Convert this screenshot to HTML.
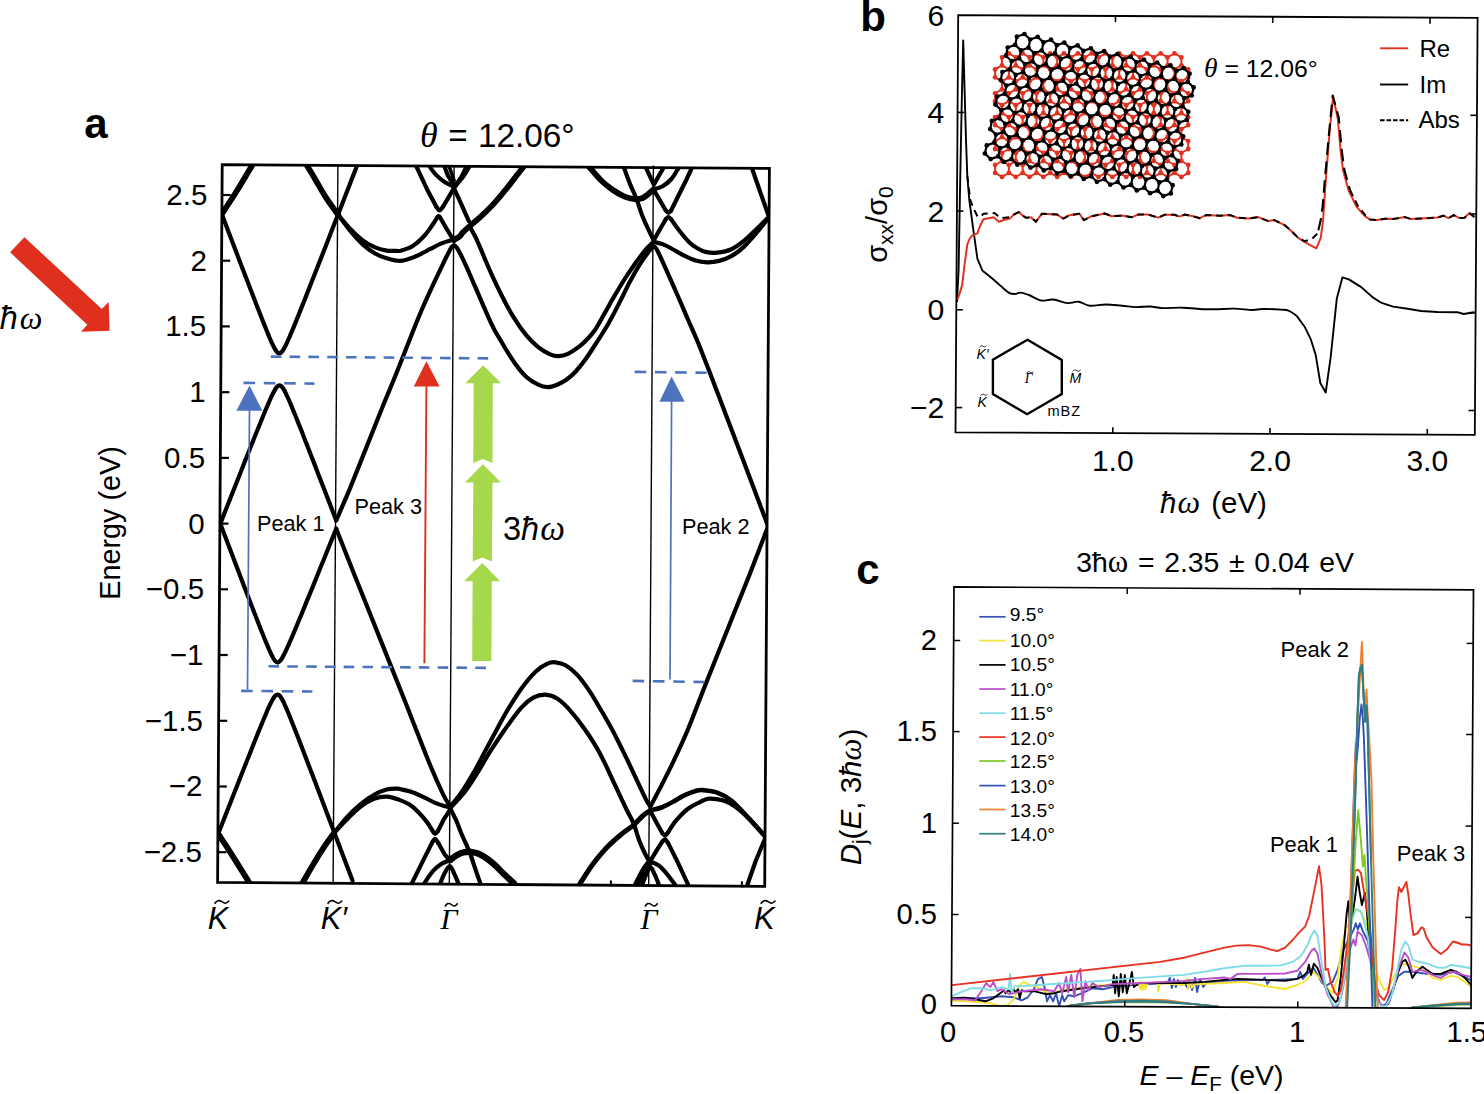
<!DOCTYPE html>
<html><head><meta charset="utf-8"><title>figure</title>
<style>html,body{margin:0;padding:0;background:#fff;overflow:hidden}svg{display:block}text{fill:#000}</style>
</head><body>
<svg width="1484" height="1094" viewBox="0 0 1484 1094" font-family="Liberation Sans, sans-serif">
<rect x="0" y="0" width="1484" height="1094" fill="#ffffff"/>
<defs><clipPath id="clipA"><polygon points="222.2,164.6 769.4,168.4 764.7,886.4 217.6,882.4"/></clipPath></defs>
<path d="M337.9 165.5 L333.1 884.5" fill="none" stroke="#000" stroke-width="1.4" />
<path d="M454.1 165.5 L449.3 884.5" fill="none" stroke="#000" stroke-width="1.4" />
<path d="M653.4 165.5 L648.7 884.5" fill="none" stroke="#000" stroke-width="1.4" />
<g clip-path="url(#clipA)"><g transform="translate(0.7 0)" stroke-linecap="round" stroke-linejoin="round">
<path d="M221.2 213.8 C223.8 209.9 231.3 198.6 236.4 190.5 C241.4 182.5 249 169.5 251.5 165.3" fill="none" stroke="#000" stroke-width="5.8" />
<path d="M221 213.8 C222.1 216.6 225.3 225.2 227.4 230.7 C229.5 236.2 231.6 241.6 233.6 246.9 C235.6 252.1 237.5 257.2 239.4 262.2 C241.3 267.2 243.2 272 245 276.7 C246.8 281.4 248.5 285.9 250.2 290.3 C251.9 294.7 253.5 298.9 255.1 303 C256.6 307 258.2 310.9 259.6 314.6 C261 318.3 262.4 321.8 263.8 325.1 C265.1 328.4 266.3 331.5 267.5 334.4 C268.7 337.2 269.8 339.9 270.8 342.1 C271.9 344.4 272.8 346.5 273.7 348.1 C274.6 349.7 275.4 350.9 276 351.7 C276.7 352.6 277.3 352.9 277.8 353.2 C278.2 353.5 278.3 353.4 278.6 353.4 C278.9 353.4 279.2 353.5 279.8 353.1 C280.3 352.6 281.2 351.9 282.1 350.6 C283 349.2 284.1 347.2 285.3 344.8 C286.5 342.3 287.8 339.3 289.2 336.1 C290.6 332.8 292.2 329.1 293.8 325.1 C295.4 321.2 297.1 316.9 298.9 312.4 C300.7 307.9 302.6 303.1 304.6 298.1 C306.6 293.1 308.7 287.8 310.8 282.3 C313 276.9 315.2 271.2 317.5 265.3 C319.8 259.4 322.2 253.3 324.7 247 C327.1 240.7 329.6 234.2 332.2 227.5 C334.8 220.9 337.5 214 340.3 207 C343 199.9 345.8 192.7 348.7 185.3 C351.6 177.9 356 166.4 357.5 162.6" fill="none" stroke="#000" stroke-width="4.2" />
<path d="M306.1 165.3 C307.6 167.8 312 175 315.2 180.4 C318.4 185.8 321.6 191.9 325.3 197.6 C329 203.3 335.4 211.9 337.5 214.8" fill="none" stroke="#000" stroke-width="5.8" />
<path d="M337.5 214.8 C339.5 217.2 345.6 224.7 349.6 228.9 C353.6 233.2 357.7 237 361.7 240.1 C365.8 243.1 369.8 245.4 373.9 247.1 C377.9 248.9 382.6 250 386 250.6 C389.4 251.2 391.7 250.8 394.1 250.8 C396.4 250.8 397.1 251.4 400 250.7 C402.9 249.9 407.8 248.7 411.7 246.3 C415.6 243.8 420 239.7 423.4 236 C426.8 232.4 430 227.5 432.2 224.3 C434.4 221.2 435.8 218.5 436.6 217.3" fill="none" stroke="#000" stroke-width="4.2" />
<path d="M436.6 217.3 C436.8 217.1 437.3 216.2 437.7 216.2 C438.2 216.2 438.9 217.1 439.2 217.3" fill="none" stroke="#000" stroke-width="4.2" />
<path d="M439.2 217.3 L446.8 230.2 L453.4 241.2" fill="none" stroke="#000" stroke-width="4.2" />
<path d="M337.5 214.8 C339.5 217.5 345.6 226.1 349.6 231 C353.6 235.9 357.7 240.4 361.7 244.1 C365.8 247.8 369.8 250.8 373.9 253.2 C377.9 255.6 381.6 257 386 258.3 C390.3 259.5 395.2 261.2 400 260.9 C404.8 260.6 409.7 258.5 414.6 256.5 C419.5 254.6 424.9 251.4 429.2 249.2 C433.6 247 437.5 244.8 440.9 243.4 C444.4 241.9 447.7 241 449.7 240.4 C451.8 239.8 452.8 239.8 453.4 239.7" fill="none" stroke="#000" stroke-width="4.2" />
<path d="M453.4 239.7 C454.2 239.2 456.9 238.1 458.5 236.8 C460.1 235.4 460.9 233.6 462.9 231.7 C464.8 229.7 467 227.9 470.2 225.1 C473.4 222.3 478 218.5 481.9 214.8 C485.8 211.2 489.7 207.4 493.6 203.1 C497.5 198.9 501.6 193.8 505.3 189.2 C508.9 184.7 512.5 180 515.5 176.1 C518.6 172.2 522.2 167.6 523.6 165.8" fill="none" stroke="#000" stroke-width="5.8" />
<path d="M415.4 165.8 L426.3 189.2 L435.8 207.1" fill="none" stroke="#000" stroke-width="4.2" />
<path d="M435.8 207.1 C436.3 207.7 437.7 210.5 438.8 210.5 C439.8 210.5 441.4 207.7 442 207.1" fill="none" stroke="#000" stroke-width="4.2" />
<path d="M442 207.1 L448.3 196.6 L453.4 187.8" fill="none" stroke="#000" stroke-width="4.2" />
<path d="M453.4 187.5 C454.6 185.7 458.6 180.4 460.7 176.8 C462.8 173.2 465.2 167.7 466.1 165.8" fill="none" stroke="#000" stroke-width="4.2" />
<path d="M453.4 187.5 C455 185.6 460.3 179.7 462.9 176.1 C465.5 172.5 468 167.6 469 165.8" fill="none" stroke="#000" stroke-width="4.2" />
<path d="M453.4 187.5 C454.8 185.6 459.3 180 461.7 176.4 C464.1 172.8 466.6 167.6 467.6 165.8" fill="none" stroke="#000" stroke-width="4.2" />
<path d="M428.5 165.8 C429.6 167.3 432.5 171.9 435.1 174.6 C437.7 177.3 440.8 179.9 443.9 181.9 C446.9 183.9 451.8 185.8 453.4 186.6" fill="none" stroke="#000" stroke-width="4.2" />
<path d="M443.6 165.8 C444.3 167.6 446 173.2 447.7 176.4 C449.3 179.6 452.4 183.7 453.4 185.2" fill="none" stroke="#000" stroke-width="4.2" />
<path d="M448.3 165.8 L453.4 180.5" fill="none" stroke="#000" stroke-width="3.6" />
<path d="M453.4 188.5 C454.2 190.3 456.7 195.5 458.5 199.5 C460.3 203.5 462.7 209 464.3 212.6 C466 216.3 467.5 219.7 468.1 221.1" fill="none" stroke="#000" stroke-width="4.2" />
<path d="M469.6 227.6 C470 228.3 470.9 229.9 472 232 C473 234 473 233 476 239.7 C479.1 246.4 485.7 262.8 490 272.4 C494.3 282 497.9 289.6 501.9 297.3 C505.8 305.1 509.8 312.4 513.8 318.7 C517.7 325.1 521.7 330.6 525.7 335.4 C529.6 340.1 533.6 344.1 537.5 347.2 C541.5 350.4 546.1 352.9 549.4 354.4 C552.8 355.9 554.8 356.3 557.7 356.2 C560.7 356.1 563.7 355.5 567.2 353.8 C570.8 352.1 575.9 348.5 579.1 346.1 C582.3 343.6 584 342 586.5 339.3 C589 336.6 591.4 334.2 594.3 330 C597.1 325.8 600.5 319.3 603.6 313.9 C606.7 308.5 609.5 303.2 612.9 297.4 C616.3 291.6 620.8 284.1 624 279 C627.2 273.9 629.4 270.8 632.1 267 C634.8 263.2 637.5 259.2 640 256 C642.5 252.8 644.8 249.9 647 247.5 C649.2 245.1 652.1 242.5 653.1 241.5" fill="none" stroke="#000" stroke-width="4.2" />
<path d="M335.5 520.4 C337.8 514.9 344.6 499.8 349.6 487.6 C354.6 475.4 360.4 460.6 365.8 447.1 C371.2 433.7 376.9 419.2 381.9 406.7 C387 394.2 390.3 386.8 396.1 372.3 C401.9 357.9 411.3 333.4 416.8 320 C422.3 306.5 425.2 300.5 429.2 291.6 C433.3 282.7 437.7 273.6 440.9 266.8 C444.2 259.9 447.2 253.7 449 250.4 C450.7 247 450.7 247.4 451.5 246.6 C452.2 245.7 452.7 245.4 453.4 245.4 C454 245.4 454.5 245.7 455.3 246.6 C456 247.4 456 247 457.8 250.4 C459.5 253.7 460.4 254.8 465.8 266.8 C471.2 278.7 484 309.5 490 322.3 C496 335.1 497.9 336.9 501.9 343.7 C505.8 350.4 509.8 357.1 513.8 362.7 C517.7 368.2 521.7 373.3 525.7 377 C529.6 380.6 534 383 537.5 384.7 C541.1 386.4 543.9 387.1 547 387.1 C550.2 387.1 553.4 385.9 556.5 384.7 C559.7 383.4 562.9 381.7 566 379.5 C569.1 377.3 572 374.8 575 371.5 C578 368.2 581.1 364.3 584.3 360 C587.5 355.7 590.7 350.5 594 345.5 C597.3 340.5 601 334.7 603.9 330 C606.8 325.3 608.4 322.4 611.2 317.2 C614 312 617.8 304.5 620.6 299 C623.4 293.5 625.5 288.8 628 284 C630.5 279.2 633.1 274.5 635.4 270.5 C637.7 266.5 640.1 262.9 642 260 C643.9 257.1 645.6 254.9 647 253 C648.4 251.1 649.5 249.7 650.5 248.6 C651.5 247.5 652.2 246.2 653.1 246.3 C654 246.4 654.6 247.1 655.8 249 C656.9 250.9 658.5 254.3 660 257.5 C661.5 260.7 662 262 664.8 268.2 C667.5 274.4 672.7 285.9 676.5 294.5 C680.3 303.1 684 312 687.5 320 C691 328 693.5 333.2 697.3 342.5 C701.1 351.8 705.5 363.3 710.4 376 C715.3 388.7 721.2 404.3 726.6 418.5 C732 432.7 738.1 448.6 742.8 461 C747.5 473.4 750.8 482.1 754.9 493 C759 503.9 765.3 520.8 767.4 526.3" fill="none" stroke="#000" stroke-width="4.2" />
<path d="M219.6 523.7 C220.7 520.9 224.1 512.4 226.2 506.9 C228.4 501.4 230.5 496.1 232.5 490.9 C234.6 485.7 236.6 480.6 238.6 475.7 C240.5 470.7 242.4 465.9 244.2 461.3 C246.1 456.7 247.9 452.2 249.6 447.8 C251.3 443.5 253 439.3 254.6 435.3 C256.2 431.3 257.8 427.4 259.3 423.7 C260.8 420.1 262.2 416.6 263.5 413.3 C264.9 410 266.2 406.9 267.4 404.1 C268.6 401.3 269.8 398.7 270.8 396.4 C271.9 394.2 272.9 392.1 273.8 390.6 C274.7 389 275.5 387.8 276.2 386.9 C276.9 386.1 277.5 385.8 277.9 385.5 C278.4 385.2 278.5 385.3 278.8 385.3 C279.1 385.3 279.2 385.2 279.6 385.5 C280.1 385.7 280.7 386 281.3 386.9 C282 387.7 282.8 388.8 283.6 390.4 C284.5 391.9 285.4 393.9 286.4 396.1 C287.5 398.2 288.6 400.8 289.7 403.5 C290.9 406.3 292.1 409.3 293.4 412.5 C294.7 415.7 296.1 419.1 297.5 422.7 C298.9 426.2 300.4 430 302 433.9 C303.5 437.9 305.1 442 306.8 446.2 C308.4 450.4 310.1 454.9 311.9 459.4 C313.7 463.9 315.5 468.6 317.3 473.4 C319.2 478.3 321.1 483.2 323.1 488.3 C325.1 493.4 327.1 498.6 329.2 504 C331.2 509.3 334.4 517.7 335.5 520.4" fill="none" stroke="#000" stroke-width="4.2" />
<path d="M623.1 167.3 C624.2 170.2 627.7 179.7 629.7 184.9 C631.8 190 633.6 193.2 635.6 198.3 C637.5 203.4 639.5 210.2 641.4 215.3 C643.4 220.3 645.3 224.5 647.3 228.7 C649.2 232.9 652.1 238.5 653.1 240.4" fill="none" stroke="#000" stroke-width="4.2" />
<path d="M588.8 167.3 C590.7 169.5 596.6 176.7 600.5 180.5 C604.4 184.3 608.3 187.3 612.2 190 C616.1 192.7 620.2 195 623.9 196.6 C627.5 198.1 631.2 198.9 634.1 199.2 C637 199.5 639.2 199.1 641.4 198.3 C643.6 197.5 645.3 195.9 647.3 194.4 C649.2 192.9 652.1 190.1 653.1 189.2" fill="none" stroke="#000" stroke-width="5.8" />
<path d="M653.1 189.2 C654.6 188.8 659 188 661.9 186.3 C664.8 184.6 667.9 182.2 670.7 179 C673.4 175.8 677 169.3 678.3 167.3" fill="none" stroke="#000" stroke-width="4.2" />
<path d="M645.1 167.3 L653.1 184.6 L663.1 167.3" fill="none" stroke="#000" stroke-width="4.2" />
<path d="M653.1 190 L660.4 202.4 L665.1 210.5" fill="none" stroke="#000" stroke-width="4.2" />
<path d="M665.1 210.5 C665.6 210.9 666.9 212.9 667.7 212.9 C668.6 212.9 669.9 210.9 670.4 210.5" fill="none" stroke="#000" stroke-width="4.2" />
<path d="M670.4 210.5 L679.4 192.2 L685.3 180.5 L691.4 167.3" fill="none" stroke="#000" stroke-width="4.2" />
<path d="M653.1 240.1 L660.4 227.3 L665.1 219.2" fill="none" stroke="#000" stroke-width="4.2" />
<path d="M665.1 219.2 C665.6 218.9 666.8 217 667.7 217 C668.7 217.1 670.2 219.2 670.7 219.7" fill="none" stroke="#000" stroke-width="4.2" />
<path d="M670.7 219.7 C672.1 221.7 676.5 228 679.4 231.7 C682.4 235.4 685.3 239.1 688.2 241.9 C691.1 244.7 694.1 246.8 697 248.5 C699.9 250.2 702.5 251.4 705.8 252.1 C709 252.8 712.4 253.1 716.5 252.6 C720.7 252.1 726.3 251.1 730.7 249.2 C735.1 247.2 738.8 244.3 742.8 241.1 C746.8 237.9 750.7 234 754.9 230 C759.1 225.9 765.9 219 768.1 216.8" fill="none" stroke="#000" stroke-width="4.2" />
<path d="M653.1 241.9 C654.6 242.3 659 243 661.9 244.1 C664.8 245.2 667.3 246.6 670.7 248.5 C674.1 250.3 678.5 253.1 682.4 255.1 C686.3 257 690.1 259 694.1 260.2 C698.1 261.4 702.3 262.2 706.4 262.3 C710.5 262.4 714.5 261.9 718.5 260.9 C722.6 259.9 726.6 258.5 730.7 256.2 C734.7 253.9 738.8 250.8 742.8 247.1 C746.8 243.4 750.7 238.9 754.9 234 C759.1 229.1 765.9 220.5 768.1 217.8" fill="none" stroke="#000" stroke-width="4.2" />
<path d="M750.9 167.3 L759 190.5 L768.1 216.4" fill="none" stroke="#000" stroke-width="4.2" />
<path d="M219.6 523.7 C220.7 526.5 223.9 535 226 540.5 C228.1 546 230.1 551.3 232.1 556.6 C234.1 561.8 236 566.9 237.9 571.8 C239.8 576.7 241.6 581.5 243.4 586.2 C245.2 590.8 246.9 595.3 248.6 599.7 C250.3 604 251.9 608.2 253.4 612.3 C255 616.3 256.5 620.1 257.9 623.8 C259.4 627.5 260.7 631 262.1 634.3 C263.4 637.5 264.6 640.6 265.8 643.4 C267 646.3 268.1 648.9 269.1 651.2 C270.1 653.4 271.1 655.4 271.9 657 C272.8 658.6 273.6 659.8 274.3 660.7 C274.9 661.5 275.5 661.8 276 662.1 C276.4 662.4 276.5 662.3 276.8 662.3 C277.1 662.3 277.2 662.4 277.7 662.1 C278.1 661.9 278.7 661.6 279.4 660.8 C280.1 660 280.9 658.8 281.8 657.3 C282.7 655.8 283.7 653.9 284.7 651.7 C285.8 649.6 286.9 647 288.1 644.3 C289.3 641.6 290.6 638.6 291.9 635.5 C293.3 632.3 294.7 628.9 296.2 625.4 C297.6 621.9 299.2 618.1 300.8 614.3 C302.4 610.4 304 606.3 305.7 602.1 C307.5 597.9 309.2 593.6 311.1 589.1 C312.9 584.6 314.8 579.9 316.7 575.2 C318.6 570.4 320.6 565.5 322.7 560.5 C324.7 555.4 326.8 550.2 328.9 545 C331.1 539.7 334.4 531.4 335.5 528.7" fill="none" stroke="#000" stroke-width="4.2" />
<path d="M335.5 528.7 C338.5 536.3 345.9 555 353.6 574.4 C361.3 593.8 373.8 624.9 381.9 645.1 C390 665.3 396.7 682 402.1 695.7 C407.6 709.4 410.1 716 414.6 727.5 C419.1 739 424.6 753.4 429.2 764.5 C433.8 775.6 439 787.2 442.4 794.3 C445.8 801.3 448.5 804.7 449.7 806.8" fill="none" stroke="#000" stroke-width="4.2" />
<path d="M217.5 833.8 C218.6 831 222 822.4 224.1 816.9 C226.3 811.4 228.4 806 230.5 800.8 C232.5 795.5 234.5 790.4 236.5 785.5 C238.4 780.5 240.3 775.7 242.2 771 C244 766.4 245.8 761.8 247.6 757.5 C249.3 753.1 251 748.9 252.6 744.8 C254.2 740.8 255.7 736.9 257.2 733.2 C258.7 729.5 260.2 726 261.5 722.7 C262.9 719.4 264.2 716.3 265.4 713.5 C266.6 710.6 267.7 708 268.8 705.7 C269.9 703.5 270.9 701.4 271.8 699.8 C272.6 698.2 273.5 697 274.2 696.1 C274.9 695.3 275.5 695 275.9 694.7 C276.4 694.4 276.5 694.5 276.8 694.5 C277.1 694.5 277.3 694.4 277.9 694.8 C278.5 695.3 279.3 695.9 280.1 697.2 C281 698.5 282 700.5 283.2 702.8 C284.3 705.2 285.6 708.1 286.9 711.3 C288.2 714.4 289.7 718.1 291.2 721.9 C292.8 725.8 294.4 729.9 296.1 734.3 C297.8 738.7 299.7 743.4 301.5 748.3 C303.4 753.2 305.4 758.3 307.4 763.7 C309.5 769 311.6 774.6 313.8 780.3 C316 786.1 318.2 792.1 320.6 798.2 C322.9 804.3 325.3 810.7 327.8 817.2 C330.3 823.7 332.8 830.4 335.4 837.3 C338 844.2 340.7 851.2 343.4 858.4 C346.1 865.7 350.4 876.9 351.8 880.6" fill="none" stroke="#000" stroke-width="4.2" />
<path d="M217.5 833.8 C220 837.6 227.2 848.5 232.3 856.6 C237.5 864.8 245.8 878.2 248.5 882.5" fill="none" stroke="#000" stroke-width="5.8" />
<path d="M302.1 882.5 C303.9 879.3 309.7 869.2 313.2 863.3 C316.7 857.4 319.9 852.2 323.3 847.1 C326.7 842.1 331.7 835.4 333.4 833" fill="none" stroke="#000" stroke-width="5.8" />
<path d="M333.4 833 C335.4 830.5 341.2 822.6 345.6 817.8 C349.9 813 355 808.2 359.7 804.3 C364.4 800.4 369.5 797 373.9 794.6 C378.2 792.1 382.3 790.5 386 789.5 C389.7 788.5 393.8 788.6 396.1 788.5 C398.4 788.5 397.4 788.6 400 789.2 C402.6 789.8 407.8 790.8 411.7 792.2 C415.6 793.5 419.5 795.4 423.4 797.3 C427.3 799.1 431.7 801.7 435.1 803.1 C438.5 804.6 441.4 805.3 443.9 806 C446.3 806.8 448.7 807.3 449.7 807.5" fill="none" stroke="#000" stroke-width="4.2" />
<path d="M333.4 833 C335.4 830.8 341.2 824.2 345.6 819.9 C349.9 815.5 355 810.2 359.7 806.7 C364.4 803.2 369.5 800.3 373.9 798.6 C378.2 796.9 381.9 796.4 386 796.6 C390 796.8 394.3 798.3 398.1 799.6 C401.9 801 405.5 802.5 408.8 804.6 C412 806.6 414.6 809 417.5 811.9 C420.5 814.8 423.9 819 426.3 822.1 C428.7 825.3 431 829.4 431.9 830.9" fill="none" stroke="#000" stroke-width="4.2" />
<path d="M431.9 830.9 C432.3 831.4 433.5 833.8 434.4 833.8 C435.3 833.8 436.8 831.4 437.3 830.9" fill="none" stroke="#000" stroke-width="4.2" />
<path d="M437.3 830.9 L442.4 820.7 L449.7 809" fill="none" stroke="#000" stroke-width="4.2" />
<path d="M411 883.6 L421.9 861.6 L431.4 842.6" fill="none" stroke="#000" stroke-width="4.2" />
<path d="M431.4 842.6 C431.9 842 433.3 838.8 434.4 838.9 C435.4 839.1 437.2 842.6 437.7 843.3" fill="none" stroke="#000" stroke-width="4.2" />
<path d="M437.7 843.3 L443.9 854.3 L449 860.2" fill="none" stroke="#000" stroke-width="4.2" />
<path d="M449.7 809 C450.7 810.9 453.6 816.3 455.6 820.7 C457.5 825.1 459.7 831.3 461.4 835.3 C463.1 839.3 464.3 841.4 465.8 844.8 C467.3 848.2 468.7 851.7 470.2 855.8 C471.7 859.8 473 864.3 474.6 868.9 C476.2 873.6 478.8 881.1 479.7 883.6" fill="none" stroke="#000" stroke-width="4.2" />
<path d="M423.4 883.6 C424.9 881.5 429.2 874.4 432.2 871.1 C435.1 867.8 438 865.7 440.9 863.8 C443.9 861.9 448.3 860.5 449.7 859.9" fill="none" stroke="#000" stroke-width="4.2" />
<path d="M449.7 859.9 C450.7 859.1 453.4 856.7 455.6 855.5 C457.8 854.2 460 852.8 462.9 852.3 C465.8 851.7 470 851.7 473.1 852.3 C476.3 852.8 478.5 853.7 481.9 855.8 C485.3 857.8 490.2 861.6 493.6 864.5 C497 867.5 499.1 870.1 502.4 873.3 C505.7 876.5 511.5 881.8 513.3 883.6" fill="none" stroke="#000" stroke-width="6.4" />
<path d="M439.5 883.6 C440.2 881.8 442.3 876.2 443.9 873.3 C445.5 870.4 447.4 866 449 866 C450.6 866 451.9 870.4 453.4 873.3 C454.8 876.2 457 881.8 457.8 883.6" fill="none" stroke="#000" stroke-width="4.2" />
<path d="M449.7 806.3 C451.7 803.9 457.5 797.1 461.4 791.4 C465.3 785.8 469.2 779.2 473.1 772.4 C477 765.6 481 757.5 484.8 750.5 C488.6 743.4 492.2 736.6 495.8 730 C499.4 723.4 502.2 717.8 506.3 711 C510.4 704.2 515.7 695.5 520.4 689 C525.1 682.5 530.2 676.2 534.6 672 C539 667.8 543.3 665.3 546.7 663.7 C550.1 662.1 551.8 662 554.8 662.3 C557.8 662.6 561.2 663.1 564.9 665.3 C568.6 667.5 573 671.1 577 675.4 C581.1 679.8 585.1 685.6 589.2 691.6 C593.2 697.7 597.5 705.4 601.3 711.8 C605 718.2 607.6 722.3 611.7 730 C615.7 737.7 621.3 749 625.6 757.8 C629.8 766.6 633.9 775.5 637.3 782.6 C640.7 789.8 644 797 646 800.9 C648.1 804.9 649.1 805.4 649.7 806.3" fill="none" stroke="#000" stroke-width="4.2" />
<path d="M449.7 807.8 C452.2 805.1 460 797.1 464.3 791.4 C468.7 785.8 471.9 780.5 476 773.9 C480.2 767.3 484.6 759.2 489.2 751.9 C493.8 744.6 498.6 737.4 503.8 730 C509 722.6 515.6 713.2 520.4 707.8 C525.2 702.4 528.5 699.9 532.6 697.7 C536.6 695.5 540.6 694.5 544.7 694.6 C548.7 694.8 552.8 696.2 556.8 698.7 C560.9 701.2 564.3 704.6 568.9 709.8 C573.6 715 579.6 722.7 584.6 730 C589.7 737.3 594.4 744.4 599.2 753.4 C604.1 762.4 609.5 774.8 613.9 784.1 C618.3 793.4 622.4 802.4 625.6 809 C628.7 815.6 630.7 818.2 632.9 823.6 C635.1 829 636.8 836 638.7 841.1 C640.7 846.3 642.9 850.9 644.6 854.3 C646.3 857.7 648.2 860.4 649 861.6" fill="none" stroke="#000" stroke-width="4.2" />
<path d="M767.4 526.3 C764.3 534.3 754.7 559.6 748.9 574.4 C743.1 589.1 738.1 601.3 732.7 614.8 C727.3 628.3 721.6 642.6 716.5 655.2 C711.5 667.9 707.3 678.1 702.4 690.6 C697.5 703.1 692 718.1 687 730 C682 741.9 676.8 752.9 672.4 762.2 C668 771.4 664.4 778.2 660.7 785.6 C656.9 792.9 651.5 802.9 649.7 806.3" fill="none" stroke="#000" stroke-width="4.2" />
<path d="M578.8 884.3 C581 881 587.3 870.8 591.9 864.5 C596.6 858.3 601.7 852.1 606.6 847 C611.4 841.9 616.8 837.5 621.2 833.8 C625.6 830.2 629.2 828.2 632.9 825.1 C636.5 821.9 640.3 817.3 643.1 814.8 C645.9 812.4 648.6 811.2 649.7 810.4" fill="none" stroke="#000" stroke-width="5" />
<path d="M649.7 810.4 C651.5 809.9 656.9 809 660.7 807.5 C664.4 806 668.5 803.7 672.4 801.7 C676.3 799.6 680.2 796.9 684.1 795.1 C688 793.2 692.7 791.5 695.8 790.7 C698.8 789.9 698.9 789.8 702.4 790.1 C705.8 790.4 711.8 790.8 716.5 792.6 C721.2 794.3 725.6 796.6 730.7 800.6 C735.7 804.7 741.1 810.8 746.8 816.8 C752.6 822.9 762 833.7 765 837" fill="none" stroke="#000" stroke-width="4.6" />
<path d="M649.7 811.2 L656.3 823.6 L661.4 832.8" fill="none" stroke="#000" stroke-width="4.2" />
<path d="M661.4 832.8 C661.9 833.3 663.4 835.7 664.3 835.6 C665.3 835.5 666.8 832.9 667.3 832.4" fill="none" stroke="#000" stroke-width="4.2" />
<path d="M667.3 832.4 C668.6 830.4 672 824.6 675.3 820.7 C678.6 816.8 682.9 812.1 687 809 C691.1 805.8 696.4 803.4 700 801.7 C703.6 799.9 704.7 798.8 708.4 798.6 C712.2 798.5 718.2 799.3 722.6 800.6 C727 802 730.3 803.6 734.7 806.7 C739.1 809.8 743.8 814.2 748.9 819.2 C753.9 824.3 762.3 834.1 765 837" fill="none" stroke="#000" stroke-width="4.2" />
<path d="M649.7 860.9 L656.3 849.9 L661.4 841.9" fill="none" stroke="#000" stroke-width="4.2" />
<path d="M661.4 841.9 C661.9 841.5 663.4 839.2 664.3 839.4 C665.3 839.6 666.8 842.3 667.3 842.9" fill="none" stroke="#000" stroke-width="4.2" />
<path d="M667.3 842.9 L675.3 858.7 L687.3 884.3" fill="none" stroke="#000" stroke-width="4.2" />
<path d="M649.7 861.6 C651 862.2 655.2 863.4 657.7 865.3 C660.3 867.1 662.3 869.4 665.1 872.6 C667.8 875.8 672.6 882.3 674.1 884.3" fill="none" stroke="#000" stroke-width="4.2" />
<path d="M635.8 884.3 C637 882 640.9 874 643.1 870.4 C645.3 866.7 648 863.7 649 862.3" fill="none" stroke="#000" stroke-width="6.6" />
<path d="M641.7 884.3 C642.9 881.5 646.9 869.1 649 867.5 C651 865.9 652.6 872 654.1 874.8 C655.6 877.6 657.4 882.7 658 884.3" fill="none" stroke="#000" stroke-width="4.2" />
<path d="M765 837 L754.9 861.3 L746.8 884.5" fill="none" stroke="#000" stroke-width="4.2" />
</g></g>
<polygon points="222.2,164.6 769.4,168.4 764.7,886.4 217.6,882.4" fill="none" stroke="#000" stroke-width="2.8"/>
<path d="M222.1 195 L230.7 195" fill="none" stroke="#000" stroke-width="2.2" />
<text x="207.3" y="204.9" font-family="Liberation Sans, sans-serif" font-size="29.5" text-anchor="end" >2.5</text>
<path d="M221.6 260.7 L230.2 260.7" fill="none" stroke="#000" stroke-width="2.2" />
<text x="206.8" y="270.6" font-family="Liberation Sans, sans-serif" font-size="29.5" text-anchor="end" >2</text>
<path d="M221.2 326.4 L229.8 326.4" fill="none" stroke="#000" stroke-width="2.2" />
<text x="206.2" y="336.3" font-family="Liberation Sans, sans-serif" font-size="29.5" text-anchor="end" >1.5</text>
<path d="M220.8 392.2 L229.4 392.2" fill="none" stroke="#000" stroke-width="2.2" />
<text x="205.7" y="402.1" font-family="Liberation Sans, sans-serif" font-size="29.5" text-anchor="end" >1</text>
<path d="M220.3 457.9 L228.9 457.9" fill="none" stroke="#000" stroke-width="2.2" />
<text x="205.1" y="467.8" font-family="Liberation Sans, sans-serif" font-size="29.5" text-anchor="end" >0.5</text>
<path d="M219.9 523.6 L228.5 523.6" fill="none" stroke="#000" stroke-width="2.2" />
<text x="204.6" y="533.5" font-family="Liberation Sans, sans-serif" font-size="29.5" text-anchor="end" >0</text>
<path d="M219.5 589.3 L228.1 589.3" fill="none" stroke="#000" stroke-width="2.2" />
<text x="204.1" y="599.2" font-family="Liberation Sans, sans-serif" font-size="29.5" text-anchor="end" >−0.5</text>
<path d="M219.1 655 L227.7 655" fill="none" stroke="#000" stroke-width="2.2" />
<text x="203.5" y="664.9" font-family="Liberation Sans, sans-serif" font-size="29.5" text-anchor="end" >−1</text>
<path d="M218.6 720.8 L227.2 720.8" fill="none" stroke="#000" stroke-width="2.2" />
<text x="203" y="730.7" font-family="Liberation Sans, sans-serif" font-size="29.5" text-anchor="end" >−1.5</text>
<path d="M218.2 786.5 L226.8 786.5" fill="none" stroke="#000" stroke-width="2.2" />
<text x="202.4" y="796.4" font-family="Liberation Sans, sans-serif" font-size="29.5" text-anchor="end" >−2</text>
<path d="M217.8 852.2 L226.4 852.2" fill="none" stroke="#000" stroke-width="2.2" />
<text x="201.9" y="862.1" font-family="Liberation Sans, sans-serif" font-size="29.5" text-anchor="end" >−2.5</text>
<path d="M480 885.4 L480.1 879.4" fill="none" stroke="#000" stroke-width="2" />
<path d="M610.9 886.4 L610.9 880.4" fill="none" stroke="#000" stroke-width="2" />
<path d="M741.9 887.3 L741.9 881.3" fill="none" stroke="#000" stroke-width="2" />
<text transform="translate(119.8 523) rotate(-90)" text-anchor="middle" font-family="Liberation Sans, sans-serif" font-size="28.8">Energy (eV)</text>
<path d="M270.8 356.6 L489.1 358.4" fill="none" stroke="#4E73BE" stroke-width="2.6" stroke-dasharray="10.6 8.2"/>
<path d="M243.5 382.9 L314.4 383.6" fill="none" stroke="#4E73BE" stroke-width="2.6" stroke-dasharray="11.6 8.7"/>
<path d="M268.5 666.3 L487.5 667.9" fill="none" stroke="#4E73BE" stroke-width="2.6" stroke-dasharray="10.6 8.2"/>
<path d="M241.1 690.9 L312.4 691.5" fill="none" stroke="#4E73BE" stroke-width="2.6" stroke-dasharray="11.6 8.7"/>
<path d="M634.6 371.9 L706.6 372.8" fill="none" stroke="#4E73BE" stroke-width="2.6" stroke-dasharray="11.6 8.7"/>
<path d="M632.6 680.9 L704.6 682" fill="none" stroke="#4E73BE" stroke-width="2.6" stroke-dasharray="11.6 8.7"/>
<path d="M247.5 689.6 L249.5 409" fill="none" stroke="#4E73BE" stroke-width="1.7" />
<polygon points="249.5,385.5 236.4,410.8 262.4,410.8" fill="#4E73BE"/>
<path d="M424.4 663.3 L426.4 386" fill="none" stroke="#DF301E" stroke-width="1.9" />
<polygon points="426.4,361.2 413.8,386.6 439.6,386.6" fill="#DF301E"/>
<path d="M670 679.5 L671.6 401" fill="none" stroke="#4E73BE" stroke-width="1.7" />
<polygon points="671.6,376.4 659.4,401.8 684.7,401.8" fill="#4E73BE"/>
<polygon points="483.2,365.3 501.2,383.3 492.8,383.3 492.5,463 482.9,459 473.3,463 473.6,383.3 465.2,383.3" fill="#A5D94B"/>
<polygon points="482.9,464.3 500.9,482.6 492.5,482.6 491.9,561.6 482.3,557.6 472.7,561.6 473.3,482.6 464.9,482.6" fill="#A5D94B"/>
<polygon points="482.2,563 500.2,581.2 491.8,581.2 491.4,661 472.2,661 472.6,581.2 464.2,581.2" fill="#A5D94B"/>
<polygon points="24.4,237.2 10.1,252.3 87.3,324.8 81,331.7 109.6,330.8 108.7,302 101.8,308.9" fill="#DF301E"/>
<text x="84.3" y="137.8" font-family="Liberation Sans, sans-serif" font-size="42" font-weight="bold" >a</text>
<text x="420" y="147.4" font-size="33.3" word-spacing="1.2" font-family="Liberation Sans, sans-serif"><tspan font-family="Liberation Serif, serif" font-style="italic" font-size="36">θ</tspan> = 12.06°</text>
<text x="-0.3" y="328.6" font-size="32.5" font-family="Liberation Sans, sans-serif" font-style="italic">ħ<tspan font-family="Liberation Serif, serif" font-size="32" dx="2">ω</tspan></text>
<text x="503" y="540" font-size="32.5" font-family="Liberation Sans, sans-serif">3<tspan font-style="italic">ħ</tspan><tspan font-family="Liberation Serif, serif" font-style="italic" font-size="35" dx="1">ω</tspan></text>
<text x="257" y="530.5" font-family="Liberation Sans, sans-serif" font-size="21.7" >Peak 1</text>
<text x="354.5" y="513.5" font-family="Liberation Sans, sans-serif" font-size="21.7" >Peak 3</text>
<text x="682" y="534" font-family="Liberation Sans, sans-serif" font-size="21.7" >Peak 2</text>
<text x="207.8" y="928.9" font-family="Liberation Sans, sans-serif" font-size="30.8" font-style="italic" >K</text><path d="M215 903.3 c1.7 -2.6 4.1 -3.6 6.9 -1.6 s4.1 2.4 6.9 -0.7" fill="none" stroke="#000" stroke-width="1.6" stroke-linecap="round"/>
<text x="320.8" y="928.9" font-family="Liberation Sans, sans-serif" font-size="30.8" font-style="italic" >K′</text><path d="M328 903.3 c1.7 -2.6 4.1 -3.6 6.9 -1.6 s4.1 2.4 6.9 -0.7" fill="none" stroke="#000" stroke-width="1.6" stroke-linecap="round"/>
<text x="440.5" y="928.9" font-family="Liberation Serif, serif" font-size="29.9" font-style="italic" >Γ</text><path d="M445.3 906.1 c1.4 -2.6 3.6 -3.6 6 -1.6 s3.6 2.4 6 -0.7" fill="none" stroke="#000" stroke-width="1.6" stroke-linecap="round"/>
<text x="640.5" y="928.9" font-family="Liberation Serif, serif" font-size="29.9" font-style="italic" >Γ</text><path d="M645.3 906.1 c1.4 -2.6 3.6 -3.6 6 -1.6 s3.6 2.4 6 -0.7" fill="none" stroke="#000" stroke-width="1.6" stroke-linecap="round"/>
<text x="754" y="928.9" font-family="Liberation Sans, sans-serif" font-size="30.8" font-style="italic" >K</text><path d="M761.2 903.3 c1.7 -2.6 4.1 -3.6 6.9 -1.6 s4.1 2.4 6.9 -0.7" fill="none" stroke="#000" stroke-width="1.6" stroke-linecap="round"/>
<path d="M1084.8 57.4L1084.8 65.4M1084.8 176.9L1091.7 172.9M1043.4 81.3L1050.2 77.3M995.1 172.9L1002 176.9M1057.2 57.4L1057.2 65.4M1029.5 153L1029.5 161M1153.8 129.1L1153.8 137.1M1098.5 153L1098.5 161M1064 77.3L1071 81.3M1064 93.3L1071 89.3M1140 176.9L1146.9 172.9M1181.4 153L1188.2 149M1077.9 69.4L1077.9 77.3M1167.5 153L1167.6 161M1029.5 57.4L1036.5 53.4M1146.9 69.4L1146.9 77.3M1057.2 129.1L1057.2 137.1M1036.5 125.1L1043.4 129.1M1022.7 53.4L1029.5 57.4M1098.5 129.1L1105.5 125.1M1174.5 117.2L1181.4 113.2M995.1 69.4L1002 65.4M1043.4 105.2L1043.4 113.2M1043.4 57.4L1043.4 65.4M1160.7 125.1L1167.5 129.1M1050.2 141.1L1050.2 149M1119.2 93.3L1119.2 101.2M1050.2 93.3L1057.2 89.3M1112.4 57.4L1112.4 65.4M1112.4 153L1119.2 149M1002 81.3L1002 89.3M1140 65.4L1146.9 69.4M1098.5 81.3L1098.5 89.3M1119.2 101.2L1126.2 105.2M1153.8 161L1160.7 165M1188.2 165L1188.2 172.9M1091.7 172.9L1098.5 176.9M1050.2 77.3L1057.2 81.3M1050.2 93.3L1050.2 101.2M995.1 125.1L1002 129.1M1071 137.1L1077.9 141.1M1022.7 172.9L1029.5 176.9M1064 93.3L1064 101.2M1036.5 141.1L1036.5 149M1015.8 161L1022.7 165M1002 153L1008.9 149M1160.7 93.3L1160.7 101.2M1146.9 117.2L1153.8 113.2M1050.2 149L1057.2 153M1008.9 165L1008.9 172.9M1181.4 129.1L1188.2 125.1M1167.6 161L1174.5 165M1174.5 53.4L1181.4 57.4M1126.2 105.2L1133 101.2M1126.2 176.9L1133 172.9M1146.9 53.4L1153.8 57.4M1133 117.2L1133 125.1M1105.5 149L1112.4 153M1043.4 137.1L1050.2 141.1M1140 57.4L1146.9 53.4M1146.9 172.9L1153.8 176.9M1084.8 129.1L1084.8 137.1M1181.4 113.2L1188.2 117.2M1133 93.3L1140 89.3M1126.2 161L1133 165M1160.7 165L1167.6 161M1022.7 69.4L1029.5 65.4M1098.5 161L1105.5 165M1146.9 69.4L1153.8 65.4M1091.7 141.1L1098.5 137.1M1002 113.2L1008.9 117.2M1008.9 149L1015.8 153M1077.9 117.2L1084.8 113.2M1153.8 57.4L1153.8 65.4M1050.2 165L1050.2 172.9M1015.8 129.1L1022.7 125.1M1146.9 101.2L1153.8 105.2M1057.2 89.3L1064 93.3M1057.2 161L1064 165M1167.6 176.9L1174.5 172.9M1091.7 141.1L1091.7 149M1146.9 141.1L1146.9 149M1091.7 101.2L1098.5 105.2M1160.7 117.2L1160.7 125.1M1126.2 81.3L1126.2 89.3M1029.5 81.3L1029.5 89.3M1077.9 149L1084.8 153M1105.5 117.2L1112.4 113.2M1119.2 165L1119.2 172.9M1064 53.4L1071 57.4M1091.7 93.3L1091.7 101.2M1126.2 65.4L1133 69.4M1167.5 57.4L1174.5 53.4M1181.4 81.3L1188.2 77.3M1057.2 105.2L1064 101.2M1098.5 153L1105.5 149M1064 117.2L1064 125.1M1071 81.3L1077.9 77.3M1133 77.3L1140 81.3M1112.4 65.4L1119.2 69.4M1174.5 69.4L1174.5 77.3M1119.2 125.1L1126.2 129.1M1153.8 89.3L1160.7 93.3M1057.2 129.1L1064 125.1M1064 117.2L1071 113.2M1077.9 77.3L1084.8 81.3M1112.4 129.1L1112.4 137.1M1002 105.2L1002 113.2M1043.4 176.9L1050.2 172.9M1022.7 141.1L1022.7 149M1084.8 153L1084.8 161M1105.5 53.4L1112.4 57.4M1091.7 117.2L1091.7 125.1M1029.5 113.2L1036.5 117.2M1064 172.9L1071 176.9M1167.5 129.1L1174.5 125.1M1036.5 165L1036.5 172.9M1077.9 165L1077.9 172.9M1050.2 172.9L1057.2 176.9M1119.2 69.4L1126.2 65.4M1084.8 89.3L1091.7 93.3M1022.7 101.2L1029.5 105.2M1057.2 153L1057.2 161M1174.5 172.9L1181.4 176.9M1126.2 89.3L1133 93.3M1133 141.1L1133 149M1112.4 153L1112.4 161M995.1 141.1L1002 137.1M1071 105.2L1077.9 101.2M1036.5 69.4L1036.5 77.3M1181.4 57.4L1181.4 65.4M1119.2 141.1L1126.2 137.1M1043.4 65.4L1050.2 69.4M1105.5 69.4L1105.5 77.3M1126.2 153L1126.2 161M1160.7 77.3L1167.5 81.3M1160.7 149L1167.5 153M1084.8 57.4L1091.7 53.4M1015.8 129.1L1015.8 137.1M1105.5 172.9L1112.4 176.9M1133 149L1140 153M1188.2 93.3L1188.2 101.2M1057.2 57.4L1064 53.4M1029.5 153L1036.5 149M995.1 165L1002 161M1050.2 53.4L1057.2 57.4M1008.9 172.9L1015.8 176.9M1022.7 117.2L1022.7 125.1M1015.8 153L1022.7 149M1064 149L1071 153M1146.9 93.3L1146.9 101.2M1008.9 117.2L1015.8 113.2M1126.2 105.2L1126.2 113.2M1008.9 93.3L1015.8 89.3M1071 161L1077.9 165M1174.5 141.1L1174.5 149M1105.5 125.1L1112.4 129.1M1167.5 105.2L1167.6 113.2M1174.5 101.2L1181.4 105.2M1140 153L1146.9 149M1146.9 165L1146.9 172.9M1181.4 153L1181.4 161M1043.4 105.2L1050.2 101.2M1050.2 101.2L1057.2 105.2M1008.9 93.3L1008.9 101.2M1146.9 141.1L1153.8 137.1M1160.7 117.2L1167.6 113.2M1153.8 129.1L1160.7 125.1M1029.5 105.2L1029.5 113.2M1064 141.1L1064 149M1029.5 81.3L1036.5 77.3M1002 81.3L1008.9 77.3M1140 129.1L1146.9 125.1M1098.5 81.3L1105.5 77.3M1119.2 165L1126.2 161M1022.7 165L1029.5 161M1077.9 53.4L1084.8 57.4M1071 176.9L1077.9 172.9M1071 65.4L1077.9 69.4M1181.4 137.1L1188.2 141.1M1002 137.1L1008.9 141.1M1002 57.4L1002 65.4M1036.5 77.3L1043.4 81.3M1153.8 57.4L1160.7 53.4M1008.9 77.3L1015.8 81.3M1174.5 69.4L1181.4 65.4M1043.4 129.1L1043.4 137.1M1160.7 141.1L1160.7 149M1160.7 93.3L1167.6 89.3M1140 81.3L1146.9 77.3M995.1 141.1L995.1 149M1091.7 69.4L1098.5 65.4M1105.5 141.1L1105.5 149M1133 117.2L1140 113.2M1098.5 105.2L1098.5 113.2M1084.8 129.1L1091.7 125.1M1119.2 117.2L1119.2 125.1M1167.6 89.3L1174.5 93.3M1153.8 81.3L1153.8 89.3M1112.4 137.1L1119.2 141.1M1071 129.1L1071 137.1M1167.6 113.2L1174.5 117.2M1105.5 141.1L1112.4 137.1M995.1 77.3L1002 81.3M995.1 93.3L1002 89.3M1057.2 81.3L1057.2 89.3M1140 113.2L1146.9 117.2M1112.4 161L1119.2 165M1174.5 165L1174.5 172.9M1181.4 129.1L1181.4 137.1M1015.8 113.2L1022.7 117.2M1077.9 172.9L1084.8 176.9M1140 57.4L1140 65.4M1133 69.4L1133 77.3M1105.5 101.2L1112.4 105.2M1043.4 89.3L1050.2 93.3M1022.7 125.1L1029.5 129.1M1146.9 125.1L1153.8 129.1M1084.8 81.3L1084.8 89.3M1133 53.4L1140 57.4M1181.4 65.4L1188.2 69.4M1015.8 65.4L1022.7 69.4M1029.5 137.1L1036.5 141.1M1126.2 113.2L1133 117.2M1188.2 117.2L1188.2 125.1M1098.5 137.1L1105.5 141.1M1036.5 149L1043.4 153M1022.7 93.3L1029.5 89.3M1140 129.1L1140 137.1M1036.5 93.3L1043.4 89.3M1008.9 101.2L1015.8 105.2M1126.2 57.4L1133 53.4M1091.7 125.1L1098.5 129.1M1050.2 117.2L1050.2 125.1M1015.8 81.3L1022.7 77.3M995.1 165L995.1 172.9M1057.2 113.2L1064 117.2M1174.5 125.1L1181.4 129.1M1036.5 93.3L1036.5 101.2M1077.9 141.1L1084.8 137.1M1043.4 161L1050.2 165M1105.5 165L1105.5 172.9M1112.4 81.3L1119.2 77.3M1077.9 101.2L1084.8 105.2M1015.8 137.1L1022.7 141.1M1105.5 69.4L1112.4 65.4M1133 172.9L1140 176.9M1008.9 117.2L1008.9 125.1M1015.8 176.9L1022.7 172.9M1181.4 81.3L1181.4 89.3M1133 101.2L1140 105.2M1071 57.4L1071 65.4M1008.9 53.4L1015.8 57.4M1160.7 53.4L1167.5 57.4M1002 176.9L1008.9 172.9M1112.4 105.2L1119.2 101.2M1112.4 176.9L1119.2 172.9M1002 65.4L1008.9 69.4M1064 69.4L1064 77.3M1098.5 65.4L1105.5 69.4M1153.8 113.2L1160.7 117.2M1153.8 153L1153.8 161M1084.8 153L1091.7 149M1098.5 113.2L1105.5 117.2M1119.2 93.3L1126.2 89.3M1057.2 153L1064 149M995.1 69.4L995.1 77.3M1133 69.4L1140 65.4M1043.4 153L1043.4 161M1043.4 129.1L1050.2 125.1M1167.5 129.1L1167.6 137.1M1064 141.1L1071 137.1M1002 153L1002 161M1002 129.1L1002 137.1M1098.5 105.2L1105.5 101.2M1084.8 113.2L1091.7 117.2M1153.8 153L1160.7 149M1174.5 141.1L1181.4 137.1M1071 153L1071 161M1057.2 81.3L1064 77.3M1133 93.3L1133 101.2M995.1 117.2L1002 113.2M1160.7 172.9L1167.6 176.9M1119.2 77.3L1126.2 81.3M1146.9 165L1153.8 161M1050.2 165L1057.2 161M1160.7 69.4L1160.7 77.3M1098.5 176.9L1105.5 172.9M1015.8 81.3L1015.8 89.3M1029.5 105.2L1036.5 101.2M1029.5 176.9L1036.5 172.9M1112.4 81.3L1112.4 89.3M1119.2 149L1126.2 153M1043.4 57.4L1050.2 53.4M1008.9 125.1L1015.8 129.1M1022.7 69.4L1022.7 77.3M1050.2 125.1L1057.2 129.1M1153.8 137.1L1160.7 141.1M1029.5 65.4L1036.5 69.4M1064 125.1L1071 129.1M1064 101.2L1071 105.2M1008.9 69.4L1015.8 65.4M1153.8 105.2L1153.8 113.2M1112.4 89.3L1119.2 93.3M1174.5 93.3L1174.5 101.2M1036.5 117.2L1043.4 113.2M1077.9 117.2L1077.9 125.1M1022.7 165L1022.7 172.9M1015.8 89.3L1022.7 93.3M1146.9 117.2L1146.9 125.1M1160.7 141.1L1167.6 137.1M1167.6 137.1L1174.5 141.1M1091.7 165L1098.5 161M1098.5 57.4L1098.5 65.4M1064 69.4L1071 65.4M1140 161L1146.9 165M1160.7 101.2L1167.5 105.2M1077.9 69.4L1084.8 65.4M1140 105.2L1146.9 101.2M1119.2 117.2L1126.2 113.2M1167.5 57.4L1167.6 65.4M1050.2 69.4L1057.2 65.4M1050.2 141.1L1057.2 137.1M1036.5 172.9L1043.4 176.9M1167.5 153L1174.5 149M1091.7 69.4L1091.7 77.3M1091.7 117.2L1098.5 113.2M1071 57.4L1077.9 53.4M1002 161L1008.9 165M1064 165L1064 172.9M1071 129.1L1077.9 125.1M1181.4 89.3L1188.2 93.3M1174.5 165L1181.4 161M1140 81.3L1140 89.3M1002 105.2L1008.9 101.2M1036.5 53.4L1043.4 57.4M1029.5 57.4L1029.5 65.4M1057.2 137.1L1064 141.1M995.1 149L1002 153M1091.7 77.3L1098.5 81.3M1071 113.2L1077.9 117.2M1126.2 129.1L1133 125.1M1091.7 149L1098.5 153M1133 165L1133 172.9M1098.5 129.1L1098.5 137.1M1181.4 161L1188.2 165M1064 165L1071 161M1112.4 105.2L1112.4 113.2M1105.5 93.3L1105.5 101.2M1105.5 165L1112.4 161M1036.5 69.4L1043.4 65.4M1181.4 105.2L1188.2 101.2M1036.5 141.1L1043.4 137.1M1126.2 153L1133 149M1084.8 81.3L1091.7 77.3M1015.8 153L1015.8 161M1153.8 81.3L1160.7 77.3M1029.5 129.1L1029.5 137.1M995.1 93.3L995.1 101.2M1105.5 93.3L1112.4 89.3M1181.4 176.9L1188.2 172.9M1084.8 137.1L1091.7 141.1M1112.4 129.1L1119.2 125.1M1022.7 117.2L1029.5 113.2M1084.8 105.2L1084.8 113.2M1015.8 105.2L1022.7 101.2M1105.5 77.3L1112.4 81.3M1057.2 176.9L1064 172.9M1167.5 105.2L1174.5 101.2M1002 89.3L1008.9 93.3M1077.9 125.1L1084.8 129.1M1043.4 81.3L1043.4 89.3M1022.7 77.3L1029.5 81.3M1015.8 57.4L1022.7 53.4M1022.7 93.3L1022.7 101.2M1146.9 77.3L1153.8 81.3M1146.9 93.3L1153.8 89.3M1160.7 69.4L1167.6 65.4M1071 89.3L1077.9 93.3M1126.2 81.3L1133 77.3M1188.2 69.4L1188.2 77.3M1119.2 172.9L1126.2 176.9M1036.5 101.2L1043.4 105.2M995.1 117.2L995.1 125.1M1126.2 57.4L1126.2 65.4M1160.7 165L1160.7 172.9M1119.2 69.4L1119.2 77.3M1091.7 93.3L1098.5 89.3M1133 125.1L1140 129.1M1119.2 53.4L1126.2 57.4M1167.6 65.4L1174.5 69.4M1077.9 141.1L1077.9 149M1140 153L1140 161M1112.4 113.2L1119.2 117.2M1174.5 117.2L1174.5 125.1M1112.4 57.4L1119.2 53.4M1043.4 153L1050.2 149M1126.2 129.1L1126.2 137.1M1008.9 69.4L1008.9 77.3M995.1 101.2L1002 105.2M1036.5 117.2L1036.5 125.1M1133 141.1L1140 137.1M1167.5 81.3L1174.5 77.3M1002 57.4L1008.9 53.4M1002 129.1L1008.9 125.1M1029.5 89.3L1036.5 93.3M1029.5 161L1036.5 165M1091.7 165L1091.7 172.9M1008.9 165L1015.8 161M1140 137.1L1146.9 141.1M1098.5 89.3L1105.5 93.3M1057.2 105.2L1057.2 113.2M1022.7 141.1L1029.5 137.1M1071 81.3L1071 89.3M1167.5 81.3L1167.6 89.3M1153.8 105.2L1160.7 101.2M1057.2 65.4L1064 69.4M1022.7 149L1029.5 153M1146.9 149L1153.8 153M1140 105.2L1140 113.2M1077.9 93.3L1084.8 89.3M1077.9 165L1084.8 161M1050.2 69.4L1050.2 77.3M1084.8 65.4L1091.7 69.4M1015.8 105.2L1015.8 113.2M1071 153L1077.9 149M1133 165L1140 161M1036.5 165L1043.4 161M1043.4 113.2L1050.2 117.2M1105.5 117.2L1105.5 125.1M1077.9 93.3L1077.9 101.2M1091.7 53.4L1098.5 57.4M1126.2 137.1L1133 141.1M1188.2 141.1L1188.2 149M1153.8 176.9L1160.7 172.9M1153.8 65.4L1160.7 69.4M1015.8 57.4L1015.8 65.4M1029.5 129.1L1036.5 125.1M1084.8 161L1091.7 165M1140 89.3L1146.9 93.3M1174.5 93.3L1181.4 89.3M1071 105.2L1071 113.2M1181.4 105.2L1181.4 113.2M1008.9 141.1L1015.8 137.1M1084.8 105.2L1091.7 101.2M1050.2 117.2L1057.2 113.2M1174.5 77.3L1181.4 81.3M1174.5 149L1181.4 153M1098.5 57.4L1105.5 53.4M1008.9 141.1L1008.9 149M1119.2 141.1L1119.2 149" fill="none" stroke="#E2321F" stroke-width="2" stroke-linecap="round"/>
<g fill="#E2321F"><circle cx="1008.9" cy="53.4" r="2.4"/><circle cx="1015.8" cy="57.4" r="2.4"/><circle cx="1015.8" cy="65.4" r="2.4"/><circle cx="1008.9" cy="69.4" r="2.4"/><circle cx="1002" cy="65.4" r="2.4"/><circle cx="1002" cy="57.4" r="2.4"/><circle cx="1022.7" cy="53.4" r="2.4"/><circle cx="1029.5" cy="57.4" r="2.4"/><circle cx="1029.5" cy="65.4" r="2.4"/><circle cx="1022.7" cy="69.4" r="2.4"/><circle cx="1036.5" cy="53.4" r="2.4"/><circle cx="1043.4" cy="57.4" r="2.4"/><circle cx="1043.4" cy="65.4" r="2.4"/><circle cx="1036.5" cy="69.4" r="2.4"/><circle cx="1050.2" cy="53.4" r="2.4"/><circle cx="1057.2" cy="57.4" r="2.4"/><circle cx="1057.2" cy="65.4" r="2.4"/><circle cx="1050.2" cy="69.4" r="2.4"/><circle cx="1064" cy="53.4" r="2.4"/><circle cx="1071" cy="57.4" r="2.4"/><circle cx="1071" cy="65.4" r="2.4"/><circle cx="1064" cy="69.4" r="2.4"/><circle cx="1077.9" cy="53.4" r="2.4"/><circle cx="1084.8" cy="57.4" r="2.4"/><circle cx="1084.8" cy="65.4" r="2.4"/><circle cx="1077.9" cy="69.4" r="2.4"/><circle cx="1091.7" cy="53.4" r="2.4"/><circle cx="1098.5" cy="57.4" r="2.4"/><circle cx="1098.5" cy="65.4" r="2.4"/><circle cx="1091.7" cy="69.4" r="2.4"/><circle cx="1105.5" cy="53.4" r="2.4"/><circle cx="1112.4" cy="57.4" r="2.4"/><circle cx="1112.4" cy="65.4" r="2.4"/><circle cx="1105.5" cy="69.4" r="2.4"/><circle cx="1119.2" cy="53.4" r="2.4"/><circle cx="1126.2" cy="57.4" r="2.4"/><circle cx="1126.2" cy="65.4" r="2.4"/><circle cx="1119.2" cy="69.4" r="2.4"/><circle cx="1133" cy="53.4" r="2.4"/><circle cx="1140" cy="57.4" r="2.4"/><circle cx="1140" cy="65.4" r="2.4"/><circle cx="1133" cy="69.4" r="2.4"/><circle cx="1146.9" cy="53.4" r="2.4"/><circle cx="1153.8" cy="57.4" r="2.4"/><circle cx="1153.8" cy="65.4" r="2.4"/><circle cx="1146.9" cy="69.4" r="2.4"/><circle cx="1160.7" cy="53.4" r="2.4"/><circle cx="1167.5" cy="57.4" r="2.4"/><circle cx="1167.6" cy="65.4" r="2.4"/><circle cx="1160.7" cy="69.4" r="2.4"/><circle cx="1174.5" cy="53.4" r="2.4"/><circle cx="1181.4" cy="57.4" r="2.4"/><circle cx="1181.4" cy="65.4" r="2.4"/><circle cx="1174.5" cy="69.4" r="2.4"/><circle cx="1008.9" cy="77.3" r="2.4"/><circle cx="1002" cy="81.3" r="2.4"/><circle cx="995.1" cy="77.3" r="2.4"/><circle cx="995.1" cy="69.4" r="2.4"/><circle cx="1022.7" cy="77.3" r="2.4"/><circle cx="1015.8" cy="81.3" r="2.4"/><circle cx="1036.5" cy="77.3" r="2.4"/><circle cx="1029.5" cy="81.3" r="2.4"/><circle cx="1050.2" cy="77.3" r="2.4"/><circle cx="1043.4" cy="81.3" r="2.4"/><circle cx="1064" cy="77.3" r="2.4"/><circle cx="1057.2" cy="81.3" r="2.4"/><circle cx="1077.9" cy="77.3" r="2.4"/><circle cx="1071" cy="81.3" r="2.4"/><circle cx="1091.7" cy="77.3" r="2.4"/><circle cx="1084.8" cy="81.3" r="2.4"/><circle cx="1105.5" cy="77.3" r="2.4"/><circle cx="1098.5" cy="81.3" r="2.4"/><circle cx="1119.2" cy="77.3" r="2.4"/><circle cx="1112.4" cy="81.3" r="2.4"/><circle cx="1133" cy="77.3" r="2.4"/><circle cx="1126.2" cy="81.3" r="2.4"/><circle cx="1146.9" cy="77.3" r="2.4"/><circle cx="1140" cy="81.3" r="2.4"/><circle cx="1160.7" cy="77.3" r="2.4"/><circle cx="1153.8" cy="81.3" r="2.4"/><circle cx="1174.5" cy="77.3" r="2.4"/><circle cx="1167.5" cy="81.3" r="2.4"/><circle cx="1188.2" cy="69.4" r="2.4"/><circle cx="1188.2" cy="77.3" r="2.4"/><circle cx="1181.4" cy="81.3" r="2.4"/><circle cx="1015.8" cy="89.3" r="2.4"/><circle cx="1008.9" cy="93.3" r="2.4"/><circle cx="1002" cy="89.3" r="2.4"/><circle cx="1029.5" cy="89.3" r="2.4"/><circle cx="1022.7" cy="93.3" r="2.4"/><circle cx="1043.4" cy="89.3" r="2.4"/><circle cx="1036.5" cy="93.3" r="2.4"/><circle cx="1057.2" cy="89.3" r="2.4"/><circle cx="1050.2" cy="93.3" r="2.4"/><circle cx="1071" cy="89.3" r="2.4"/><circle cx="1064" cy="93.3" r="2.4"/><circle cx="1084.8" cy="89.3" r="2.4"/><circle cx="1077.9" cy="93.3" r="2.4"/><circle cx="1098.5" cy="89.3" r="2.4"/><circle cx="1091.7" cy="93.3" r="2.4"/><circle cx="1112.4" cy="89.3" r="2.4"/><circle cx="1105.5" cy="93.3" r="2.4"/><circle cx="1126.2" cy="89.3" r="2.4"/><circle cx="1119.2" cy="93.3" r="2.4"/><circle cx="1140" cy="89.3" r="2.4"/><circle cx="1133" cy="93.3" r="2.4"/><circle cx="1153.8" cy="89.3" r="2.4"/><circle cx="1146.9" cy="93.3" r="2.4"/><circle cx="1167.6" cy="89.3" r="2.4"/><circle cx="1160.7" cy="93.3" r="2.4"/><circle cx="1181.4" cy="89.3" r="2.4"/><circle cx="1174.5" cy="93.3" r="2.4"/><circle cx="1008.9" cy="101.2" r="2.4"/><circle cx="1002" cy="105.2" r="2.4"/><circle cx="995.1" cy="101.2" r="2.4"/><circle cx="995.1" cy="93.3" r="2.4"/><circle cx="1022.7" cy="101.2" r="2.4"/><circle cx="1015.8" cy="105.2" r="2.4"/><circle cx="1036.5" cy="101.2" r="2.4"/><circle cx="1029.5" cy="105.2" r="2.4"/><circle cx="1050.2" cy="101.2" r="2.4"/><circle cx="1043.4" cy="105.2" r="2.4"/><circle cx="1064" cy="101.2" r="2.4"/><circle cx="1057.2" cy="105.2" r="2.4"/><circle cx="1077.9" cy="101.2" r="2.4"/><circle cx="1071" cy="105.2" r="2.4"/><circle cx="1091.7" cy="101.2" r="2.4"/><circle cx="1084.8" cy="105.2" r="2.4"/><circle cx="1105.5" cy="101.2" r="2.4"/><circle cx="1098.5" cy="105.2" r="2.4"/><circle cx="1119.2" cy="101.2" r="2.4"/><circle cx="1112.4" cy="105.2" r="2.4"/><circle cx="1133" cy="101.2" r="2.4"/><circle cx="1126.2" cy="105.2" r="2.4"/><circle cx="1146.9" cy="101.2" r="2.4"/><circle cx="1140" cy="105.2" r="2.4"/><circle cx="1160.7" cy="101.2" r="2.4"/><circle cx="1153.8" cy="105.2" r="2.4"/><circle cx="1174.5" cy="101.2" r="2.4"/><circle cx="1167.5" cy="105.2" r="2.4"/><circle cx="1188.2" cy="93.3" r="2.4"/><circle cx="1188.2" cy="101.2" r="2.4"/><circle cx="1181.4" cy="105.2" r="2.4"/><circle cx="1015.8" cy="113.2" r="2.4"/><circle cx="1008.9" cy="117.2" r="2.4"/><circle cx="1002" cy="113.2" r="2.4"/><circle cx="1029.5" cy="113.2" r="2.4"/><circle cx="1022.7" cy="117.2" r="2.4"/><circle cx="1043.4" cy="113.2" r="2.4"/><circle cx="1036.5" cy="117.2" r="2.4"/><circle cx="1057.2" cy="113.2" r="2.4"/><circle cx="1050.2" cy="117.2" r="2.4"/><circle cx="1071" cy="113.2" r="2.4"/><circle cx="1064" cy="117.2" r="2.4"/><circle cx="1084.8" cy="113.2" r="2.4"/><circle cx="1077.9" cy="117.2" r="2.4"/><circle cx="1098.5" cy="113.2" r="2.4"/><circle cx="1091.7" cy="117.2" r="2.4"/><circle cx="1112.4" cy="113.2" r="2.4"/><circle cx="1105.5" cy="117.2" r="2.4"/><circle cx="1126.2" cy="113.2" r="2.4"/><circle cx="1119.2" cy="117.2" r="2.4"/><circle cx="1140" cy="113.2" r="2.4"/><circle cx="1133" cy="117.2" r="2.4"/><circle cx="1153.8" cy="113.2" r="2.4"/><circle cx="1146.9" cy="117.2" r="2.4"/><circle cx="1167.6" cy="113.2" r="2.4"/><circle cx="1160.7" cy="117.2" r="2.4"/><circle cx="1181.4" cy="113.2" r="2.4"/><circle cx="1174.5" cy="117.2" r="2.4"/><circle cx="1008.9" cy="125.1" r="2.4"/><circle cx="1002" cy="129.1" r="2.4"/><circle cx="995.1" cy="125.1" r="2.4"/><circle cx="995.1" cy="117.2" r="2.4"/><circle cx="1022.7" cy="125.1" r="2.4"/><circle cx="1015.8" cy="129.1" r="2.4"/><circle cx="1036.5" cy="125.1" r="2.4"/><circle cx="1029.5" cy="129.1" r="2.4"/><circle cx="1050.2" cy="125.1" r="2.4"/><circle cx="1043.4" cy="129.1" r="2.4"/><circle cx="1064" cy="125.1" r="2.4"/><circle cx="1057.2" cy="129.1" r="2.4"/><circle cx="1077.9" cy="125.1" r="2.4"/><circle cx="1071" cy="129.1" r="2.4"/><circle cx="1091.7" cy="125.1" r="2.4"/><circle cx="1084.8" cy="129.1" r="2.4"/><circle cx="1105.5" cy="125.1" r="2.4"/><circle cx="1098.5" cy="129.1" r="2.4"/><circle cx="1119.2" cy="125.1" r="2.4"/><circle cx="1112.4" cy="129.1" r="2.4"/><circle cx="1133" cy="125.1" r="2.4"/><circle cx="1126.2" cy="129.1" r="2.4"/><circle cx="1146.9" cy="125.1" r="2.4"/><circle cx="1140" cy="129.1" r="2.4"/><circle cx="1160.7" cy="125.1" r="2.4"/><circle cx="1153.8" cy="129.1" r="2.4"/><circle cx="1174.5" cy="125.1" r="2.4"/><circle cx="1167.5" cy="129.1" r="2.4"/><circle cx="1188.2" cy="117.2" r="2.4"/><circle cx="1188.2" cy="125.1" r="2.4"/><circle cx="1181.4" cy="129.1" r="2.4"/><circle cx="1015.8" cy="137.1" r="2.4"/><circle cx="1008.9" cy="141.1" r="2.4"/><circle cx="1002" cy="137.1" r="2.4"/><circle cx="1029.5" cy="137.1" r="2.4"/><circle cx="1022.7" cy="141.1" r="2.4"/><circle cx="1043.4" cy="137.1" r="2.4"/><circle cx="1036.5" cy="141.1" r="2.4"/><circle cx="1057.2" cy="137.1" r="2.4"/><circle cx="1050.2" cy="141.1" r="2.4"/><circle cx="1071" cy="137.1" r="2.4"/><circle cx="1064" cy="141.1" r="2.4"/><circle cx="1084.8" cy="137.1" r="2.4"/><circle cx="1077.9" cy="141.1" r="2.4"/><circle cx="1098.5" cy="137.1" r="2.4"/><circle cx="1091.7" cy="141.1" r="2.4"/><circle cx="1112.4" cy="137.1" r="2.4"/><circle cx="1105.5" cy="141.1" r="2.4"/><circle cx="1126.2" cy="137.1" r="2.4"/><circle cx="1119.2" cy="141.1" r="2.4"/><circle cx="1140" cy="137.1" r="2.4"/><circle cx="1133" cy="141.1" r="2.4"/><circle cx="1153.8" cy="137.1" r="2.4"/><circle cx="1146.9" cy="141.1" r="2.4"/><circle cx="1167.6" cy="137.1" r="2.4"/><circle cx="1160.7" cy="141.1" r="2.4"/><circle cx="1181.4" cy="137.1" r="2.4"/><circle cx="1174.5" cy="141.1" r="2.4"/><circle cx="1008.9" cy="149" r="2.4"/><circle cx="1002" cy="153" r="2.4"/><circle cx="995.1" cy="149" r="2.4"/><circle cx="995.1" cy="141.1" r="2.4"/><circle cx="1022.7" cy="149" r="2.4"/><circle cx="1015.8" cy="153" r="2.4"/><circle cx="1036.5" cy="149" r="2.4"/><circle cx="1029.5" cy="153" r="2.4"/><circle cx="1050.2" cy="149" r="2.4"/><circle cx="1043.4" cy="153" r="2.4"/><circle cx="1064" cy="149" r="2.4"/><circle cx="1057.2" cy="153" r="2.4"/><circle cx="1077.9" cy="149" r="2.4"/><circle cx="1071" cy="153" r="2.4"/><circle cx="1091.7" cy="149" r="2.4"/><circle cx="1084.8" cy="153" r="2.4"/><circle cx="1105.5" cy="149" r="2.4"/><circle cx="1098.5" cy="153" r="2.4"/><circle cx="1119.2" cy="149" r="2.4"/><circle cx="1112.4" cy="153" r="2.4"/><circle cx="1133" cy="149" r="2.4"/><circle cx="1126.2" cy="153" r="2.4"/><circle cx="1146.9" cy="149" r="2.4"/><circle cx="1140" cy="153" r="2.4"/><circle cx="1160.7" cy="149" r="2.4"/><circle cx="1153.8" cy="153" r="2.4"/><circle cx="1174.5" cy="149" r="2.4"/><circle cx="1167.5" cy="153" r="2.4"/><circle cx="1188.2" cy="141.1" r="2.4"/><circle cx="1188.2" cy="149" r="2.4"/><circle cx="1181.4" cy="153" r="2.4"/><circle cx="1015.8" cy="161" r="2.4"/><circle cx="1008.9" cy="165" r="2.4"/><circle cx="1002" cy="161" r="2.4"/><circle cx="1029.5" cy="161" r="2.4"/><circle cx="1022.7" cy="165" r="2.4"/><circle cx="1043.4" cy="161" r="2.4"/><circle cx="1036.5" cy="165" r="2.4"/><circle cx="1057.2" cy="161" r="2.4"/><circle cx="1050.2" cy="165" r="2.4"/><circle cx="1071" cy="161" r="2.4"/><circle cx="1064" cy="165" r="2.4"/><circle cx="1084.8" cy="161" r="2.4"/><circle cx="1077.9" cy="165" r="2.4"/><circle cx="1098.5" cy="161" r="2.4"/><circle cx="1091.7" cy="165" r="2.4"/><circle cx="1112.4" cy="161" r="2.4"/><circle cx="1105.5" cy="165" r="2.4"/><circle cx="1126.2" cy="161" r="2.4"/><circle cx="1119.2" cy="165" r="2.4"/><circle cx="1140" cy="161" r="2.4"/><circle cx="1133" cy="165" r="2.4"/><circle cx="1153.8" cy="161" r="2.4"/><circle cx="1146.9" cy="165" r="2.4"/><circle cx="1167.6" cy="161" r="2.4"/><circle cx="1160.7" cy="165" r="2.4"/><circle cx="1181.4" cy="161" r="2.4"/><circle cx="1174.5" cy="165" r="2.4"/><circle cx="1008.9" cy="172.9" r="2.4"/><circle cx="1002" cy="176.9" r="2.4"/><circle cx="995.1" cy="172.9" r="2.4"/><circle cx="995.1" cy="165" r="2.4"/><circle cx="1022.7" cy="172.9" r="2.4"/><circle cx="1015.8" cy="176.9" r="2.4"/><circle cx="1036.5" cy="172.9" r="2.4"/><circle cx="1029.5" cy="176.9" r="2.4"/><circle cx="1050.2" cy="172.9" r="2.4"/><circle cx="1043.4" cy="176.9" r="2.4"/><circle cx="1064" cy="172.9" r="2.4"/><circle cx="1057.2" cy="176.9" r="2.4"/><circle cx="1077.9" cy="172.9" r="2.4"/><circle cx="1071" cy="176.9" r="2.4"/><circle cx="1091.7" cy="172.9" r="2.4"/><circle cx="1084.8" cy="176.9" r="2.4"/><circle cx="1105.5" cy="172.9" r="2.4"/><circle cx="1098.5" cy="176.9" r="2.4"/><circle cx="1119.2" cy="172.9" r="2.4"/><circle cx="1112.4" cy="176.9" r="2.4"/><circle cx="1133" cy="172.9" r="2.4"/><circle cx="1126.2" cy="176.9" r="2.4"/><circle cx="1146.9" cy="172.9" r="2.4"/><circle cx="1140" cy="176.9" r="2.4"/><circle cx="1160.7" cy="172.9" r="2.4"/><circle cx="1153.8" cy="176.9" r="2.4"/><circle cx="1174.5" cy="172.9" r="2.4"/><circle cx="1167.6" cy="176.9" r="2.4"/><circle cx="1188.2" cy="165" r="2.4"/><circle cx="1188.2" cy="172.9" r="2.4"/><circle cx="1181.4" cy="176.9" r="2.4"/></g>
<path d="M1068.8 86.2L1076.3 83.6M1087.3 64.6L1094.9 61.9M1005.2 123.8L1012.7 121.1M1113.9 70.3L1121.4 67.6M1051.5 69.7L1059 67.1M1024.8 162.1L1030.5 167.6M1124.7 149.4L1123 157.5M1051.3 167.8L1057.1 173.3M1171 95.3L1178.5 92.7M1066.4 162.5L1064.6 170.6M1047.5 56.1L1045.8 64.2M1175 109L1173.3 117.1M1121.9 97.6L1120.2 105.8M1048.5 116L1054.3 121.5M1051 39.7L1056.8 45.2M1012.7 121.1L1018.5 126.6M984.9 153.5L990.7 159.1M990.2 129.1L996 134.6M1031.3 99.5L1037 105M1090.1 116.4L1088.4 124.5M1027.2 85.8L1033 91.3M1043.5 42.4L1051 39.7M1026.5 153.9L1024.8 162.1M1140.5 76L1138.7 84.1M1123.5 187.5L1131 184.9M1187.8 81.9L1193.6 87.4M1168.6 171.6L1166.8 179.7M1015.7 74.8L1014 83M1161.2 76.2L1167 81.7M1124.2 119.4L1130 124.9M1183.1 136.3L1181.3 144.5M1144.3 187.7L1150 193.2M1065.8 132.5L1071.6 138M997.2 96.5L1004.7 93.8M1056.8 45.2L1055 53.4M1091.2 176.3L1096.9 181.8M1027.8 115.8L1035.3 113.1M1063.1 80.7L1068.8 86.2M1008.7 107.5L1014.5 113M1070.4 176.1L1077.9 173.5M1058.3 135.2L1056.6 143.3M1131 184.9L1136.8 190.4M1182.6 106.3L1188.3 111.8M1120.2 105.8L1125.9 111.3M1076.9 113.5L1075.1 121.7M1142 165.9L1140.3 174.1M1091.4 78.2L1089.6 86.4M1098.9 75.6L1104.6 81.1M1159.3 182.4L1157.6 190.6M1056.6 143.3L1062.3 148.8M1166.8 179.7L1172.6 185.2M1028.5 47.7L1034.2 53.2M1165.8 119.8L1173.3 117.1M1034.2 53.2L1041.7 50.5M1041 118.6L1039.3 126.8M1139.2 114.1L1146.7 111.5M1116.2 92.1L1121.9 97.6M1148 73.3L1153.7 78.8M1163 68L1170.5 65.4M1143.2 127.8L1150.8 125.1M1115.5 160.2L1123 157.5M1059 67.1L1064.8 72.6M1157.2 62.5L1163 68M1131.2 86.8L1138.7 84.1M1047.5 56.1L1055 53.4M1098.2 143.7L1096.4 151.9M1057.1 173.3L1064.6 170.6M1116.7 122.1L1114.9 130.2M1081.6 59.1L1087.3 64.6M1106.9 102.9L1112.7 108.4M1149.5 163.2L1155.3 168.7M1102.2 157.4L1100.4 165.5M1119.5 173.9L1127 171.2M1095.4 91.9L1102.9 89.3M1099.4 105.6L1097.6 113.7M1161.8 106.1L1169.3 103.5M1019.7 88.5L1027.2 85.8M1031.8 129.5L1039.3 126.8M1035.8 143.1L1034 151.3M1071.6 138L1079.1 135.3M1083.1 149L1088.9 154.5M1107.4 132.9L1114.9 130.2M1119 143.9L1124.7 149.4M1035.3 113.1L1041 118.6M1039.8 156.8L1047.3 154.1M1125.9 111.3L1124.2 119.4M1149.7 65.2L1148 73.3M1083.3 50.9L1090.8 48.3M1092.9 168.2L1091.2 176.3M1009.2 137.4L1007.5 145.6M1102.2 157.4L1109.7 154.7M1183.8 68.2L1189.6 73.7M1150 193.2L1157.6 190.6M991.9 120.9L990.2 129.1M1157.8 92.5L1156 100.6M1088.9 154.5L1096.4 151.9M1138.7 84.1L1144.5 89.6M1074.1 61.7L1072.3 69.9M1134 138.6L1132.2 146.7M996 134.6L1003.5 131.9M1148.5 103.3L1146.7 111.5M1090.1 116.4L1097.6 113.7M1158.8 152.4L1164.6 157.9M1075.1 121.7L1080.9 127.2M1054.3 121.5L1061.8 118.8M1039.3 126.8L1045 132.3M1114.9 130.2L1120.7 135.7M1042.3 80.5L1040.5 88.7M1053.1 159.6L1051.3 167.8M1173.8 147.1L1181.3 144.5M1110.9 116.6L1116.7 122.1M1123.2 59.5L1130.7 56.8M1004 161.9L1011.5 159.2M1043.5 42.4L1041.7 50.5M1176.3 70.9L1174.5 79M1160.5 144.3L1158.8 152.4M1040.5 88.7L1046.3 94.2M1018.5 126.6L1026 124M1004.7 93.8L1010.5 99.3M1083.3 50.9L1081.6 59.1M1184.3 98.2L1182.6 106.3M1127.2 73.1L1134.7 70.5M1022 110.3L1027.8 115.8M1019.7 88.5L1018 96.6M1025 64L1023.2 72.2M1157.6 190.6L1163.3 196.1M1082.1 89.1L1080.3 97.2M1142.7 97.8L1148.5 103.3M1127 171.2L1132.8 176.7M1169.8 133.5L1177.3 130.8M1104.1 51.1L1109.9 56.6M1000 148.2L1007.5 145.6M1046.3 94.2L1053.8 91.5M1030.5 167.6L1038.1 164.9M1067.6 124.3L1065.8 132.5M1077.6 45.4L1083.3 50.9M1050.3 107.8L1048.5 116M1177.8 160.8L1176.1 168.9M1055 53.4L1060.8 58.9M1086.1 102.7L1084.4 110.9M986.7 145.4L984.9 153.5M1123 157.5L1128.7 163M1070 48.1L1077.6 45.4M1156.5 130.6L1164 128M1022.5 140.3L1030 137.6M1001.2 110.1L999.4 118.3M1097.6 113.7L1103.4 119.2M1055.5 83.4L1063.1 80.7M1034 151.3L1039.8 156.8M1066.4 162.5L1073.9 159.8M1101.7 127.4L1107.4 132.9M1135.2 100.4L1142.7 97.8M1074.1 61.7L1081.6 59.1M1111.4 146.5L1109.7 154.7M1143.2 127.8L1141.5 135.9M1059.6 97L1057.8 105.2M1150.8 125.1L1156.5 130.6M1094.1 130L1092.4 138.2M1164.6 157.9L1172.1 155.3M1067.1 94.4L1072.8 99.9M1108.1 64.8L1113.9 70.3M1173.3 117.1L1179.1 122.6M1089.6 86.4L1095.4 91.9M1146.7 111.5L1152.5 117M1117.9 83.9L1116.2 92.1M1119.5 173.9L1117.7 182M1015.7 74.8L1023.2 72.2M1147.3 141.4L1154.8 138.8M1013.2 151.1L1020.8 148.4M1167 81.7L1165.3 89.8M1034.2 53.2L1032.5 61.4M1096.6 53.8L1104.1 51.1M1058.3 135.2L1065.8 132.5M1168.6 171.6L1176.1 168.9M1104.6 81.1L1112.2 78.4M1106.2 171L1113.7 168.4M1142 165.9L1149.5 163.2M995.4 104.6L1001.2 110.1M991.9 120.9L999.4 118.3M1038.2 66.9L1045.8 64.2M1100.6 67.4L1098.9 75.6M1157.8 92.5L1165.3 89.8M1018.5 126.6L1016.7 134.8M1170.5 65.4L1176.3 70.9M1128.7 163L1127 171.2M1037 105L1035.3 113.1M1007.7 47.5L1015.2 44.9M1134 138.6L1141.5 135.9M1050.3 107.8L1057.8 105.2M1027.8 115.8L1026 124M1167 81.7L1174.5 79M1151.3 155.1L1158.8 152.4M1060.6 157L1066.4 162.5M1098.2 143.7L1105.7 141M996 134.6L994.2 142.7M1080.9 127.2L1088.4 124.5M1113.7 168.4L1119.5 173.9M1084.9 140.8L1083.1 149M1152.5 117L1150.8 125.1M1155.3 168.7L1153.5 176.9M1023.2 72.2L1029 77.7M1041.7 50.5L1047.5 56.1M1076.3 83.6L1082.1 89.1M1011.7 61.2L1019.2 58.5M1077.9 173.5L1083.7 179M1051.5 69.7L1049.8 77.9M1125.9 111.3L1133.5 108.6M1109.9 56.6L1108.1 64.8M999.4 118.3L1005.2 123.8M1085.6 72.7L1091.4 78.2M1062.3 148.8L1060.6 157M1043.3 140.5L1049.1 146M1149.7 65.2L1157.2 62.5M1108.7 94.8L1106.9 102.9M1153.5 176.9L1159.3 182.4M1127.2 73.1L1125.4 81.3M1007.5 145.6L1013.2 151.1M1045 132.3L1043.3 140.5M1092.9 168.2L1100.4 165.5M1141.5 135.9L1147.3 141.4M1134.7 70.5L1140.5 76M1154.8 138.8L1160.5 144.3M1193.6 87.4L1191.8 95.5M1160 114.3L1165.8 119.8M1174.5 79L1180.3 84.5M1130 124.9L1137.5 122.3M1064.6 170.6L1070.4 176.1M1151.3 155.1L1149.5 163.2M1013.2 151.1L1011.5 159.2M1169.8 133.5L1168.1 141.6M1068.8 86.2L1067.1 94.4M1062.3 148.8L1069.9 146.2M1046.3 94.2L1044.5 102.3M1144 59.7L1149.7 65.2M1000.7 80.1L1006.4 85.6M1117.7 182L1123.5 187.5M1022.5 140.3L1020.8 148.4M1093.6 100.1L1099.4 105.6M1057.8 105.2L1063.6 110.7M1088.9 154.5L1087.2 162.7M1006.4 85.6L1014 83M1042.3 80.5L1049.8 77.9M1180.3 84.5L1187.8 81.9M1067.6 124.3L1075.1 121.7M1153.7 78.8L1161.2 76.2M1138 152.2L1145.5 149.6M1088.4 124.5L1094.1 130M1030.2 39.5L1037.7 36.9M1176.3 70.9L1183.8 68.2M1146 179.6L1144.3 187.7M1160.5 144.3L1168.1 141.6M1049.8 77.9L1055.5 83.4M1002.4 72L1000.7 80.1M1026.5 153.9L1034 151.3M1053.1 159.6L1060.6 157M990.7 159.1L998.2 156.4M1136.4 62.3L1134.7 70.5M1145.5 149.6L1151.3 155.1M1164 128L1169.8 133.5M1092.4 138.2L1098.2 143.7M1069.9 146.2L1075.6 151.7M1049.1 146L1056.6 143.3M1015.2 44.9L1021 50.4M1100.6 67.4L1108.1 64.8M1082.1 89.1L1089.6 86.4M1064.8 72.6L1072.3 69.9M1096.6 53.8L1094.9 61.9M1075.6 151.7L1083.1 149M1117.9 83.9L1125.4 81.3M1120.7 135.7L1119 143.9M1014.5 113L1022 110.3M986.7 145.4L994.2 142.7M1010.5 99.3L1008.7 107.5M1179.1 122.6L1177.3 130.8M1078.1 75.4L1076.3 83.6M1026 124L1031.8 129.5M1020.8 148.4L1026.5 153.9M1079.6 165.3L1077.9 173.5M1136.8 190.4L1144.3 187.7M994.2 142.7L1000 148.2M1099.4 105.6L1106.9 102.9M1168.1 141.6L1173.8 147.1M1105.7 141L1111.4 146.5M1144.5 89.6L1142.7 97.8M1125.4 81.3L1131.2 86.8M1070 48.1L1068.3 56.2M1060.8 58.9L1059 67.1M1169.3 103.5L1175 109M1083.7 179L1091.2 176.3M1135.2 100.4L1133.5 108.6M997.2 96.5L995.4 104.6M1133.5 108.6L1139.2 114.1M1061.8 118.8L1067.6 124.3M1011.7 61.2L1009.9 69.3M1071.6 138L1069.9 146.2M1064.3 42.6L1070 48.1M998.2 156.4L1004 161.9M1044.5 102.3L1050.3 107.8M1041 118.6L1048.5 116M1103.4 119.2L1101.7 127.4M1039.8 156.8L1038.1 164.9M1054.3 121.5L1052.6 129.7M1164.6 157.9L1162.8 166.1M1029 77.7L1036.5 75M1124.7 149.4L1132.2 146.7M1109.7 154.7L1115.5 160.2M1023.7 102.1L1031.3 99.5M1128.7 163L1136.2 160.4M1072.3 69.9L1078.1 75.4M1175 109L1182.6 106.3M1121.9 97.6L1129.4 94.9M1076.9 113.5L1084.4 110.9M1113.9 70.3L1112.2 78.4M1115.5 160.2L1113.7 168.4M1130 124.9L1128.2 133.1M1029 77.7L1027.2 85.8M1038.1 164.9L1043.8 170.4M1084.4 110.9L1090.1 116.4M1104.6 81.1L1102.9 89.3M1010.5 99.3L1018 96.6M1019.2 58.5L1025 64M1129.4 94.9L1135.2 100.4M1172.6 185.2L1170.8 193.4M1016.7 134.8L1022.5 140.3M1090.8 48.3L1096.6 53.8M1171 95.3L1169.3 103.5M1033 91.3L1040.5 88.7M1021 50.4L1019.2 58.5M1017.3 164.7L1024.8 162.1M1084.9 140.8L1092.4 138.2M1152.5 117L1160 114.3M1003.5 131.9L1009.2 137.4M1002.4 72L1009.9 69.3M1112.2 78.4L1117.9 83.9M1096.4 151.9L1102.2 157.4M1177.3 130.8L1183.1 136.3M1056.8 45.2L1064.3 42.6M1153.7 78.8L1152 87M1110.2 184.7L1117.7 182M1060.8 58.9L1068.3 56.2M1155.3 168.7L1162.8 166.1M1091.4 78.2L1098.9 75.6M1025 64L1032.5 61.4M1159.3 182.4L1166.8 179.7M1137.5 122.3L1143.2 127.8M1080.9 127.2L1079.1 135.3M1132.8 176.7L1140.3 174.1M1108.7 94.8L1116.2 92.1M1112.7 108.4L1110.9 116.6M1094.9 61.9L1100.6 67.4M1072.8 99.9L1080.3 97.2M1045 132.3L1052.6 129.7M1018 96.6L1023.7 102.1M1049.1 146L1047.3 154.1M1120.7 135.7L1128.2 133.1M1071.1 108L1076.9 113.5M1165.8 119.8L1164 128M1179.1 122.6L1186.6 120M1055.5 83.4L1053.8 91.5M1045.8 64.2L1051.5 69.7M1139.2 114.1L1137.5 122.3M1009.9 69.3L1015.7 74.8M1106.2 171L1104.4 179.2M1023.7 102.1L1022 110.3M1189.6 73.7L1187.8 81.9M1087.3 64.6L1085.6 72.7M1163.3 196.1L1170.8 193.4M1144.5 89.6L1152 87M1037.7 36.9L1043.5 42.4M1052.6 129.7L1058.3 135.2M1005.2 123.8L1003.5 131.9M1163 68L1161.2 76.2M1038.2 66.9L1036.5 75M1165.3 89.8L1171 95.3M1030 137.6L1035.8 143.1M1140.5 76L1148 73.3M1016.9 36.7L1024.4 34M1180.3 84.5L1178.5 92.7M1103.4 119.2L1110.9 116.6M1072.8 99.9L1071.1 108M1136.4 62.3L1144 59.7M1095.4 91.9L1093.6 100.1M1147.3 141.4L1145.5 149.6M1009.2 137.4L1016.7 134.8M1032.5 61.4L1038.2 66.9M1005.9 55.7L1011.7 61.2M1031.8 129.5L1030 137.6M1128.2 133.1L1134 138.6M1130.7 56.8L1136.4 62.3M1063.6 110.7L1061.8 118.8M1079.1 135.3L1084.9 140.8M1138 152.2L1136.2 160.4M1000 148.2L998.2 156.4M1011.5 159.2L1017.3 164.7M1030.2 39.5L1028.5 47.7M1121.4 67.6L1127.2 73.1M1053.8 91.5L1059.6 97M1184.3 98.2L1191.8 95.5M1047.3 154.1L1053.1 159.6M1148.5 103.3L1156 100.6M1146 179.6L1153.5 176.9M1024.4 34L1030.2 39.5M1080.3 97.2L1086.1 102.7M1037 105L1044.5 102.3M1075.6 151.7L1073.9 159.8M1123.2 59.5L1121.4 67.6M1152 87L1157.8 92.5M1036.5 75L1042.3 80.5M1021 50.4L1028.5 47.7M1102.9 89.3L1108.7 94.8M1161.8 106.1L1160 114.3M1079.6 165.3L1087.2 162.7M1064.8 72.6L1063.1 80.7M1100.4 165.5L1106.2 171M1104.4 179.2L1110.2 184.7M1172.1 155.3L1177.8 160.8M1116.7 122.1L1124.2 119.4M1112.7 108.4L1120.2 105.8M1136.2 160.4L1142 165.9M1087.2 162.7L1092.9 168.2M1014.5 113L1012.7 121.1M1107.4 132.9L1105.7 141M1033 91.3L1031.3 99.5M1132.2 146.7L1138 152.2M1068.3 56.2L1074.1 61.7M1178.5 92.7L1184.3 98.2M1131.2 86.8L1129.4 94.9M1162.8 166.1L1168.6 171.6M1109.9 56.6L1117.4 54M1173.8 147.1L1172.1 155.3M1035.8 143.1L1043.3 140.5M1188.3 111.8L1186.6 120M1096.9 181.8L1104.4 179.2M1078.1 75.4L1085.6 72.7M1156.5 130.6L1154.8 138.8M1006.4 85.6L1004.7 93.8M1016.9 36.7L1015.2 44.9M1063.6 110.7L1071.1 108M1001.2 110.1L1008.7 107.5M1073.9 159.8L1079.6 165.3M1007.7 47.5L1005.9 55.7M1132.8 176.7L1131 184.9M1156 100.6L1161.8 106.1M1140.3 174.1L1146 179.6M1111.4 146.5L1119 143.9M1086.1 102.7L1093.6 100.1M1014 83L1019.7 88.5M1117.4 54L1123.2 59.5M1059.6 97L1067.1 94.4M1043.8 170.4L1051.3 167.8M1094.1 130L1101.7 127.4" fill="none" stroke="#000" stroke-width="2.2" stroke-linecap="round"/>
<g fill="#000"><circle cx="1024.4" cy="34" r="2.35"/><circle cx="1030.2" cy="39.5" r="2.35"/><circle cx="1028.5" cy="47.7" r="2.35"/><circle cx="1021" cy="50.4" r="2.35"/><circle cx="1015.2" cy="44.9" r="2.35"/><circle cx="1016.9" cy="36.7" r="2.35"/><circle cx="1037.7" cy="36.9" r="2.35"/><circle cx="1043.5" cy="42.4" r="2.35"/><circle cx="1041.7" cy="50.5" r="2.35"/><circle cx="1034.2" cy="53.2" r="2.35"/><circle cx="1051" cy="39.7" r="2.35"/><circle cx="1056.8" cy="45.2" r="2.35"/><circle cx="1055" cy="53.4" r="2.35"/><circle cx="1047.5" cy="56.1" r="2.35"/><circle cx="1064.3" cy="42.6" r="2.35"/><circle cx="1070" cy="48.1" r="2.35"/><circle cx="1068.3" cy="56.2" r="2.35"/><circle cx="1060.8" cy="58.9" r="2.35"/><circle cx="1077.6" cy="45.4" r="2.35"/><circle cx="1083.3" cy="50.9" r="2.35"/><circle cx="1081.6" cy="59.1" r="2.35"/><circle cx="1074.1" cy="61.7" r="2.35"/><circle cx="1090.8" cy="48.3" r="2.35"/><circle cx="1096.6" cy="53.8" r="2.35"/><circle cx="1094.9" cy="61.9" r="2.35"/><circle cx="1087.3" cy="64.6" r="2.35"/><circle cx="1104.1" cy="51.1" r="2.35"/><circle cx="1109.9" cy="56.6" r="2.35"/><circle cx="1108.1" cy="64.8" r="2.35"/><circle cx="1100.6" cy="67.4" r="2.35"/><circle cx="1117.4" cy="54" r="2.35"/><circle cx="1123.2" cy="59.5" r="2.35"/><circle cx="1121.4" cy="67.6" r="2.35"/><circle cx="1113.9" cy="70.3" r="2.35"/><circle cx="1130.7" cy="56.8" r="2.35"/><circle cx="1136.4" cy="62.3" r="2.35"/><circle cx="1134.7" cy="70.5" r="2.35"/><circle cx="1127.2" cy="73.1" r="2.35"/><circle cx="1144" cy="59.7" r="2.35"/><circle cx="1149.7" cy="65.2" r="2.35"/><circle cx="1148" cy="73.3" r="2.35"/><circle cx="1140.5" cy="76" r="2.35"/><circle cx="1157.2" cy="62.5" r="2.35"/><circle cx="1163" cy="68" r="2.35"/><circle cx="1161.2" cy="76.2" r="2.35"/><circle cx="1153.7" cy="78.8" r="2.35"/><circle cx="1170.5" cy="65.4" r="2.35"/><circle cx="1176.3" cy="70.9" r="2.35"/><circle cx="1174.5" cy="79" r="2.35"/><circle cx="1167" cy="81.7" r="2.35"/><circle cx="1183.8" cy="68.2" r="2.35"/><circle cx="1189.6" cy="73.7" r="2.35"/><circle cx="1187.8" cy="81.9" r="2.35"/><circle cx="1180.3" cy="84.5" r="2.35"/><circle cx="1019.2" cy="58.5" r="2.35"/><circle cx="1011.7" cy="61.2" r="2.35"/><circle cx="1005.9" cy="55.7" r="2.35"/><circle cx="1007.7" cy="47.5" r="2.35"/><circle cx="1032.5" cy="61.4" r="2.35"/><circle cx="1025" cy="64" r="2.35"/><circle cx="1045.8" cy="64.2" r="2.35"/><circle cx="1038.2" cy="66.9" r="2.35"/><circle cx="1059" cy="67.1" r="2.35"/><circle cx="1051.5" cy="69.7" r="2.35"/><circle cx="1072.3" cy="69.9" r="2.35"/><circle cx="1064.8" cy="72.6" r="2.35"/><circle cx="1085.6" cy="72.7" r="2.35"/><circle cx="1078.1" cy="75.4" r="2.35"/><circle cx="1098.9" cy="75.6" r="2.35"/><circle cx="1091.4" cy="78.2" r="2.35"/><circle cx="1112.2" cy="78.4" r="2.35"/><circle cx="1104.6" cy="81.1" r="2.35"/><circle cx="1125.4" cy="81.3" r="2.35"/><circle cx="1117.9" cy="83.9" r="2.35"/><circle cx="1138.7" cy="84.1" r="2.35"/><circle cx="1131.2" cy="86.8" r="2.35"/><circle cx="1152" cy="87" r="2.35"/><circle cx="1144.5" cy="89.6" r="2.35"/><circle cx="1165.3" cy="89.8" r="2.35"/><circle cx="1157.8" cy="92.5" r="2.35"/><circle cx="1178.5" cy="92.7" r="2.35"/><circle cx="1171" cy="95.3" r="2.35"/><circle cx="1193.6" cy="87.4" r="2.35"/><circle cx="1191.8" cy="95.5" r="2.35"/><circle cx="1184.3" cy="98.2" r="2.35"/><circle cx="1023.2" cy="72.2" r="2.35"/><circle cx="1015.7" cy="74.8" r="2.35"/><circle cx="1009.9" cy="69.3" r="2.35"/><circle cx="1036.5" cy="75" r="2.35"/><circle cx="1029" cy="77.7" r="2.35"/><circle cx="1049.8" cy="77.9" r="2.35"/><circle cx="1042.3" cy="80.5" r="2.35"/><circle cx="1063.1" cy="80.7" r="2.35"/><circle cx="1055.5" cy="83.4" r="2.35"/><circle cx="1076.3" cy="83.6" r="2.35"/><circle cx="1068.8" cy="86.2" r="2.35"/><circle cx="1089.6" cy="86.4" r="2.35"/><circle cx="1082.1" cy="89.1" r="2.35"/><circle cx="1102.9" cy="89.3" r="2.35"/><circle cx="1095.4" cy="91.9" r="2.35"/><circle cx="1116.2" cy="92.1" r="2.35"/><circle cx="1108.7" cy="94.8" r="2.35"/><circle cx="1129.4" cy="94.9" r="2.35"/><circle cx="1121.9" cy="97.6" r="2.35"/><circle cx="1142.7" cy="97.8" r="2.35"/><circle cx="1135.2" cy="100.4" r="2.35"/><circle cx="1156" cy="100.6" r="2.35"/><circle cx="1148.5" cy="103.3" r="2.35"/><circle cx="1169.3" cy="103.5" r="2.35"/><circle cx="1161.8" cy="106.1" r="2.35"/><circle cx="1182.6" cy="106.3" r="2.35"/><circle cx="1175" cy="109" r="2.35"/><circle cx="1014" cy="83" r="2.35"/><circle cx="1006.4" cy="85.6" r="2.35"/><circle cx="1000.7" cy="80.1" r="2.35"/><circle cx="1002.4" cy="72" r="2.35"/><circle cx="1027.2" cy="85.8" r="2.35"/><circle cx="1019.7" cy="88.5" r="2.35"/><circle cx="1040.5" cy="88.7" r="2.35"/><circle cx="1033" cy="91.3" r="2.35"/><circle cx="1053.8" cy="91.5" r="2.35"/><circle cx="1046.3" cy="94.2" r="2.35"/><circle cx="1067.1" cy="94.4" r="2.35"/><circle cx="1059.6" cy="97" r="2.35"/><circle cx="1080.3" cy="97.2" r="2.35"/><circle cx="1072.8" cy="99.9" r="2.35"/><circle cx="1093.6" cy="100.1" r="2.35"/><circle cx="1086.1" cy="102.7" r="2.35"/><circle cx="1106.9" cy="102.9" r="2.35"/><circle cx="1099.4" cy="105.6" r="2.35"/><circle cx="1120.2" cy="105.8" r="2.35"/><circle cx="1112.7" cy="108.4" r="2.35"/><circle cx="1133.5" cy="108.6" r="2.35"/><circle cx="1125.9" cy="111.3" r="2.35"/><circle cx="1146.7" cy="111.5" r="2.35"/><circle cx="1139.2" cy="114.1" r="2.35"/><circle cx="1160" cy="114.3" r="2.35"/><circle cx="1152.5" cy="117" r="2.35"/><circle cx="1173.3" cy="117.1" r="2.35"/><circle cx="1165.8" cy="119.8" r="2.35"/><circle cx="1188.3" cy="111.8" r="2.35"/><circle cx="1186.6" cy="120" r="2.35"/><circle cx="1179.1" cy="122.6" r="2.35"/><circle cx="1018" cy="96.6" r="2.35"/><circle cx="1010.5" cy="99.3" r="2.35"/><circle cx="1004.7" cy="93.8" r="2.35"/><circle cx="1031.3" cy="99.5" r="2.35"/><circle cx="1023.7" cy="102.1" r="2.35"/><circle cx="1044.5" cy="102.3" r="2.35"/><circle cx="1037" cy="105" r="2.35"/><circle cx="1057.8" cy="105.2" r="2.35"/><circle cx="1050.3" cy="107.8" r="2.35"/><circle cx="1071.1" cy="108" r="2.35"/><circle cx="1063.6" cy="110.7" r="2.35"/><circle cx="1084.4" cy="110.9" r="2.35"/><circle cx="1076.9" cy="113.5" r="2.35"/><circle cx="1097.6" cy="113.7" r="2.35"/><circle cx="1090.1" cy="116.4" r="2.35"/><circle cx="1110.9" cy="116.6" r="2.35"/><circle cx="1103.4" cy="119.2" r="2.35"/><circle cx="1124.2" cy="119.4" r="2.35"/><circle cx="1116.7" cy="122.1" r="2.35"/><circle cx="1137.5" cy="122.3" r="2.35"/><circle cx="1130" cy="124.9" r="2.35"/><circle cx="1150.8" cy="125.1" r="2.35"/><circle cx="1143.2" cy="127.8" r="2.35"/><circle cx="1164" cy="128" r="2.35"/><circle cx="1156.5" cy="130.6" r="2.35"/><circle cx="1177.3" cy="130.8" r="2.35"/><circle cx="1169.8" cy="133.5" r="2.35"/><circle cx="1008.7" cy="107.5" r="2.35"/><circle cx="1001.2" cy="110.1" r="2.35"/><circle cx="995.4" cy="104.6" r="2.35"/><circle cx="997.2" cy="96.5" r="2.35"/><circle cx="1022" cy="110.3" r="2.35"/><circle cx="1014.5" cy="113" r="2.35"/><circle cx="1035.3" cy="113.1" r="2.35"/><circle cx="1027.8" cy="115.8" r="2.35"/><circle cx="1048.5" cy="116" r="2.35"/><circle cx="1041" cy="118.6" r="2.35"/><circle cx="1061.8" cy="118.8" r="2.35"/><circle cx="1054.3" cy="121.5" r="2.35"/><circle cx="1075.1" cy="121.7" r="2.35"/><circle cx="1067.6" cy="124.3" r="2.35"/><circle cx="1088.4" cy="124.5" r="2.35"/><circle cx="1080.9" cy="127.2" r="2.35"/><circle cx="1101.7" cy="127.4" r="2.35"/><circle cx="1094.1" cy="130" r="2.35"/><circle cx="1114.9" cy="130.2" r="2.35"/><circle cx="1107.4" cy="132.9" r="2.35"/><circle cx="1128.2" cy="133.1" r="2.35"/><circle cx="1120.7" cy="135.7" r="2.35"/><circle cx="1141.5" cy="135.9" r="2.35"/><circle cx="1134" cy="138.6" r="2.35"/><circle cx="1154.8" cy="138.8" r="2.35"/><circle cx="1147.3" cy="141.4" r="2.35"/><circle cx="1168.1" cy="141.6" r="2.35"/><circle cx="1160.5" cy="144.3" r="2.35"/><circle cx="1183.1" cy="136.3" r="2.35"/><circle cx="1181.3" cy="144.5" r="2.35"/><circle cx="1173.8" cy="147.1" r="2.35"/><circle cx="1012.7" cy="121.1" r="2.35"/><circle cx="1005.2" cy="123.8" r="2.35"/><circle cx="999.4" cy="118.3" r="2.35"/><circle cx="1026" cy="124" r="2.35"/><circle cx="1018.5" cy="126.6" r="2.35"/><circle cx="1039.3" cy="126.8" r="2.35"/><circle cx="1031.8" cy="129.5" r="2.35"/><circle cx="1052.6" cy="129.7" r="2.35"/><circle cx="1045" cy="132.3" r="2.35"/><circle cx="1065.8" cy="132.5" r="2.35"/><circle cx="1058.3" cy="135.2" r="2.35"/><circle cx="1079.1" cy="135.3" r="2.35"/><circle cx="1071.6" cy="138" r="2.35"/><circle cx="1092.4" cy="138.2" r="2.35"/><circle cx="1084.9" cy="140.8" r="2.35"/><circle cx="1105.7" cy="141" r="2.35"/><circle cx="1098.2" cy="143.7" r="2.35"/><circle cx="1119" cy="143.9" r="2.35"/><circle cx="1111.4" cy="146.5" r="2.35"/><circle cx="1132.2" cy="146.7" r="2.35"/><circle cx="1124.7" cy="149.4" r="2.35"/><circle cx="1145.5" cy="149.6" r="2.35"/><circle cx="1138" cy="152.2" r="2.35"/><circle cx="1158.8" cy="152.4" r="2.35"/><circle cx="1151.3" cy="155.1" r="2.35"/><circle cx="1172.1" cy="155.3" r="2.35"/><circle cx="1164.6" cy="157.9" r="2.35"/><circle cx="1003.5" cy="131.9" r="2.35"/><circle cx="996" cy="134.6" r="2.35"/><circle cx="990.2" cy="129.1" r="2.35"/><circle cx="991.9" cy="120.9" r="2.35"/><circle cx="1016.7" cy="134.8" r="2.35"/><circle cx="1009.2" cy="137.4" r="2.35"/><circle cx="1030" cy="137.6" r="2.35"/><circle cx="1022.5" cy="140.3" r="2.35"/><circle cx="1043.3" cy="140.5" r="2.35"/><circle cx="1035.8" cy="143.1" r="2.35"/><circle cx="1056.6" cy="143.3" r="2.35"/><circle cx="1049.1" cy="146" r="2.35"/><circle cx="1069.9" cy="146.2" r="2.35"/><circle cx="1062.3" cy="148.8" r="2.35"/><circle cx="1083.1" cy="149" r="2.35"/><circle cx="1075.6" cy="151.7" r="2.35"/><circle cx="1096.4" cy="151.9" r="2.35"/><circle cx="1088.9" cy="154.5" r="2.35"/><circle cx="1109.7" cy="154.7" r="2.35"/><circle cx="1102.2" cy="157.4" r="2.35"/><circle cx="1123" cy="157.5" r="2.35"/><circle cx="1115.5" cy="160.2" r="2.35"/><circle cx="1136.2" cy="160.4" r="2.35"/><circle cx="1128.7" cy="163" r="2.35"/><circle cx="1149.5" cy="163.2" r="2.35"/><circle cx="1142" cy="165.9" r="2.35"/><circle cx="1162.8" cy="166.1" r="2.35"/><circle cx="1155.3" cy="168.7" r="2.35"/><circle cx="1177.8" cy="160.8" r="2.35"/><circle cx="1176.1" cy="168.9" r="2.35"/><circle cx="1168.6" cy="171.6" r="2.35"/><circle cx="1007.5" cy="145.6" r="2.35"/><circle cx="1000" cy="148.2" r="2.35"/><circle cx="994.2" cy="142.7" r="2.35"/><circle cx="1020.8" cy="148.4" r="2.35"/><circle cx="1013.2" cy="151.1" r="2.35"/><circle cx="1034" cy="151.3" r="2.35"/><circle cx="1026.5" cy="153.9" r="2.35"/><circle cx="1047.3" cy="154.1" r="2.35"/><circle cx="1039.8" cy="156.8" r="2.35"/><circle cx="1060.6" cy="157" r="2.35"/><circle cx="1053.1" cy="159.6" r="2.35"/><circle cx="1073.9" cy="159.8" r="2.35"/><circle cx="1066.4" cy="162.5" r="2.35"/><circle cx="1087.2" cy="162.7" r="2.35"/><circle cx="1079.6" cy="165.3" r="2.35"/><circle cx="1100.4" cy="165.5" r="2.35"/><circle cx="1092.9" cy="168.2" r="2.35"/><circle cx="1113.7" cy="168.4" r="2.35"/><circle cx="1106.2" cy="171" r="2.35"/><circle cx="1127" cy="171.2" r="2.35"/><circle cx="1119.5" cy="173.9" r="2.35"/><circle cx="1140.3" cy="174.1" r="2.35"/><circle cx="1132.8" cy="176.7" r="2.35"/><circle cx="1153.5" cy="176.9" r="2.35"/><circle cx="1146" cy="179.6" r="2.35"/><circle cx="1166.8" cy="179.7" r="2.35"/><circle cx="1159.3" cy="182.4" r="2.35"/><circle cx="998.2" cy="156.4" r="2.35"/><circle cx="990.7" cy="159.1" r="2.35"/><circle cx="984.9" cy="153.5" r="2.35"/><circle cx="986.7" cy="145.4" r="2.35"/><circle cx="1011.5" cy="159.2" r="2.35"/><circle cx="1004" cy="161.9" r="2.35"/><circle cx="1024.8" cy="162.1" r="2.35"/><circle cx="1017.3" cy="164.7" r="2.35"/><circle cx="1038.1" cy="164.9" r="2.35"/><circle cx="1030.5" cy="167.6" r="2.35"/><circle cx="1051.3" cy="167.8" r="2.35"/><circle cx="1043.8" cy="170.4" r="2.35"/><circle cx="1064.6" cy="170.6" r="2.35"/><circle cx="1057.1" cy="173.3" r="2.35"/><circle cx="1077.9" cy="173.5" r="2.35"/><circle cx="1070.4" cy="176.1" r="2.35"/><circle cx="1091.2" cy="176.3" r="2.35"/><circle cx="1083.7" cy="179" r="2.35"/><circle cx="1104.4" cy="179.2" r="2.35"/><circle cx="1096.9" cy="181.8" r="2.35"/><circle cx="1117.7" cy="182" r="2.35"/><circle cx="1110.2" cy="184.7" r="2.35"/><circle cx="1131" cy="184.9" r="2.35"/><circle cx="1123.5" cy="187.5" r="2.35"/><circle cx="1144.3" cy="187.7" r="2.35"/><circle cx="1136.8" cy="190.4" r="2.35"/><circle cx="1157.6" cy="190.6" r="2.35"/><circle cx="1150" cy="193.2" r="2.35"/><circle cx="1172.6" cy="185.2" r="2.35"/><circle cx="1170.8" cy="193.4" r="2.35"/><circle cx="1163.3" cy="196.1" r="2.35"/></g>
<defs><clipPath id="clipB"><polygon points="958.2,15.2 1477.6,17.8 1474.8,434.9 955.5,432.4"/></clipPath></defs>
<g clip-path="url(#clipB)" stroke-linejoin="round">
<path d="M957 302 L958.6 270 L960.2 180 L961.8 100 L963.2 40.4 L964.6 90 L966 140 L967.3 176 L969.3 200 L973.4 230.3 L977.4 258.6 L982.5 270.8" fill="none" stroke="#000" stroke-width="1.9" />
<path d="M982.5 270.8 C984.2 272.1 989.6 276.3 992.6 278.8 C995.6 281.3 997.9 283.6 1000.6 285.9 C1003.3 288.2 1006.3 291.2 1008.7 292.6 C1011.1 294 1012.8 294 1014.8 294 C1016.8 294 1018.5 292.4 1020.9 292.6 C1023.2 292.8 1025.5 293.7 1028.9 295 C1032.3 296.3 1037 299.8 1041.1 300.5 C1045.1 301.2 1048.8 299.1 1053.2 299.5 C1057.6 299.9 1063.2 302.7 1067.4 303.1 C1071.6 303.5 1074.8 301.3 1078.5 301.7 C1082.2 302.1 1085 305.2 1089.6 305.7 C1094.1 306.2 1100.4 304.5 1105.8 304.5 C1111.2 304.5 1116.9 305.3 1121.9 305.7 C1127 306.1 1131.4 307 1136.1 307.1 C1140.8 307.2 1145.8 306.3 1150.2 306.5 C1154.6 306.7 1157 307.9 1162.4 308.1 C1167.8 308.3 1175.9 307.5 1182.6 307.7 C1189.3 307.9 1197.2 308.9 1202.8 309.2 C1208.4 309.4 1210.9 309.3 1216.1 309.2 C1221.3 309.1 1228.2 308.5 1234.2 308.6 C1240.2 308.7 1247.6 309.9 1252.3 310 C1257 310.1 1257.6 309.1 1262.3 309 C1267 308.9 1276.1 309.3 1280.5 309.6 C1284.9 309.9 1285.8 309.6 1288.5 310.6 C1291.2 311.6 1295.2 314.8 1296.5 315.6" fill="none" stroke="#000" stroke-width="1.9" />
<path d="M1296.5 315.6 L1304.6 326.7 L1310.6 338.8 L1315.7 354.9 L1320.3 383 L1325.7 392.5 L1330.7 356.9 L1336.8 298.6 L1342.4 277.4 L1348.8 279.4 L1360.9 286.9 L1373 297.5 L1381 302.6 L1393.1 306.6 L1409.2 309 L1421.2 311 L1437.3 312 L1457.4 312.2 L1463.5 314 L1474.5 312.2" fill="none" stroke="#000" stroke-width="1.9" />
<path d="M957.2 300 L959.5 294 L962.2 284.9 L964.5 265 L967.3 244.5 L969.5 239 L972.3 235.4 L977.4 233.4 L980 226 L983.5 219.2 L993.6 217.2 L999 221.8 L1004 220 L1009.7 218.6 L1014 214.5 L1018.8 212.1 L1022 215 L1025.9 217.8 L1031 217.2 L1036 221.8 L1039 217.5 L1042.1 213.7 L1057.2 214.6 L1063.3 218.6 L1069.4 215.2 L1079.5 213.7 L1083.9 220.2 L1091.6 216.2 L1104.7 213.5 L1111.8 216.2 L1121.9 215.6 L1132 217.2 L1138.1 214.6 L1148.2 214.6 L1158.3 217.6 L1164.4 214.8 L1174.5 214.8 L1179.5 216.6 L1184.6 214.6 L1192 216 L1200 218.2 L1206 215.1 L1220.1 215.7 L1230.2 215.1 L1237.2 217.7 L1248.3 218.5 L1258.3 217.1 L1268.4 221.1 L1274.4 220.1 L1284.5 225.1 L1290.5 230.2 L1298.6 238.2 L1306.6 243.2 L1316.3 248.3 L1320.7 238.2 L1323.1 220.1 L1325.7 181 L1329.7 130.7 L1333.1 96.5 L1337.8 118.7 L1340.8 152.9 L1343.2 171 L1348.8 191.1 L1356.9 207.2 L1364.9 216.2 L1370 219.5 L1377 220.1 L1385 218.7 L1393.1 219.1 L1405.1 217.1 L1411.2 219.1 L1421.2 218.5 L1437.3 217.5 L1443.4 215.7 L1448.4 218.1 L1453.8 215.1 L1459.5 218.1 L1464.5 217.7 L1469.5 213.1 L1474.5 217.1" fill="none" stroke="#E2321F" stroke-width="2" />
<path d="M967.3 176 L970.3 200 L973.4 208.1 L977.4 216.2 L980.5 216.8 L983.5 213.7 L994.6 213.1 L1000.6 218.2 L1009.7 217.2 L1014 214.5 L1018.8 212.1 L1022 215 L1025.9 217.8 L1031 217.2 L1036 221.8 L1039 217.5 L1042.1 213.7 L1057.2 214.6 L1063.3 218.6 L1069.4 215.2 L1079.5 213.7 L1083.9 220.2 L1091.6 216.2 L1104.7 213.5 L1111.8 216.2 L1121.9 215.6 L1132 217.2 L1138.1 214.6 L1148.2 214.6 L1158.3 217.6 L1164.4 214.8 L1174.5 214.8 L1179.5 216.6 L1184.6 214.6 L1192 216 L1200 218.2 L1206 215.1 L1220.1 215.7 L1230.2 215.1 L1237.2 217.7 L1248.3 218.5 L1258.3 217.1 L1268.4 221.1 L1274.4 220.1 L1284.5 225.1 L1290.5 230.2 L1298.6 238.2 L1304.6 241.2 L1311.6 239.2 L1317.7 233.2" fill="none" stroke="#000" stroke-width="2" stroke-dasharray="6.8 4.9"/>
<path d="M1317.7 233.2 L1320.7 220.1 L1322.7 206 L1324.7 181 L1328.7 136.8 L1332.7 95.5 L1338.8 117.7 L1341.8 151 L1344.4 170 L1350 190" fill="none" stroke="#000" stroke-width="2.1" stroke-dasharray="12.5 6.5" stroke-dashoffset="-3"/>
<path d="M1350 190 L1358 206.2 L1366 216 L1370 219.5 L1377 220.1 L1385 218.7 L1393.1 219.1 L1405.1 217.1 L1411.2 219.1 L1421.2 218.5 L1437.3 217.5 L1443.4 215.7 L1448.4 218.1 L1453.8 215.1 L1459.5 218.1 L1464.5 217.7 L1469.5 213.1 L1474.5 217.1" fill="none" stroke="#000" stroke-width="2" stroke-dasharray="6.8 4.9"/>
</g>
<polygon points="958.2,15.2 1477.6,17.8 1474.8,434.9 955.5,432.4" fill="none" stroke="#000" stroke-width="1.8"/>
<path d="M1112.8 433.3 L1112.8 427.3" fill="none" stroke="#000" stroke-width="1.6" />
<path d="M1115.5 16.1 L1115.5 22.1" fill="none" stroke="#000" stroke-width="1.6" />
<path d="M1270 434.1 L1270 428.1" fill="none" stroke="#000" stroke-width="1.6" />
<path d="M1272.8 16.9 L1272.7 22.9" fill="none" stroke="#000" stroke-width="1.6" />
<path d="M1427.3 435 L1427.3 429" fill="none" stroke="#000" stroke-width="1.6" />
<path d="M1430 17.8 L1430 23.8" fill="none" stroke="#000" stroke-width="1.6" />
<path d="M957.6 112.4 L964.1 112.4" fill="none" stroke="#000" stroke-width="1.6" />
<path d="M1476.9 115.3 L1470.4 115.3" fill="none" stroke="#000" stroke-width="1.6" />
<path d="M956.9 211.1 L963.4 211.1" fill="none" stroke="#000" stroke-width="1.6" />
<path d="M1476.3 214 L1469.8 214" fill="none" stroke="#000" stroke-width="1.6" />
<path d="M956.3 309.8 L962.8 309.8" fill="none" stroke="#000" stroke-width="1.6" />
<path d="M1475.6 312.7 L1469.1 312.7" fill="none" stroke="#000" stroke-width="1.6" />
<path d="M955.7 407.6 L962.2 407.6" fill="none" stroke="#000" stroke-width="1.6" />
<path d="M1475 410.5 L1468.5 410.5" fill="none" stroke="#000" stroke-width="1.6" />
<text x="944.3" y="25.9" font-family="Liberation Sans, sans-serif" font-size="30.2" text-anchor="end" >6</text>
<text x="944.3" y="122.8" font-family="Liberation Sans, sans-serif" font-size="30.2" text-anchor="end" >4</text>
<text x="944.3" y="221.5" font-family="Liberation Sans, sans-serif" font-size="30.2" text-anchor="end" >2</text>
<text x="944.3" y="320.2" font-family="Liberation Sans, sans-serif" font-size="30.2" text-anchor="end" >0</text>
<text x="944.3" y="418" font-family="Liberation Sans, sans-serif" font-size="30.2" text-anchor="end" >−2</text>
<text x="1112.8" y="471" font-family="Liberation Sans, sans-serif" font-size="30" text-anchor="middle" >1.0</text>
<text x="1270" y="471" font-family="Liberation Sans, sans-serif" font-size="30" text-anchor="middle" >2.0</text>
<text x="1427.3" y="471" font-family="Liberation Sans, sans-serif" font-size="30" text-anchor="middle" >3.0</text>
<text x="1160" y="512.5" font-size="29.5" font-family="Liberation Sans, sans-serif"><tspan font-style="italic">ħ</tspan><tspan font-family="Liberation Serif, serif" font-style="italic" font-size="32" dx="1">ω</tspan><tspan dx="3"> (eV)</tspan></text>
<text transform="translate(886.5 224.5) rotate(-90)" text-anchor="middle" font-family="Liberation Sans, sans-serif" font-size="29">σ<tspan font-size="21" dy="6.5">xx</tspan><tspan dy="-6.5">/σ</tspan><tspan font-size="21" dy="6.5">0</tspan></text>
<text x="860.3" y="30.9" font-family="Liberation Sans, sans-serif" font-size="42" font-weight="bold" >b</text>
<path d="M1380 48.3 L1408.2 48.3" fill="none" stroke="#E2321F" stroke-width="1.9" />
<path d="M1380 84.5 L1408.2 84.5" fill="none" stroke="#000" stroke-width="1.9" />
<path d="M1380 120.3 L1408.2 120.3" fill="none" stroke="#000" stroke-width="1.9" stroke-dasharray="4.6 1.9"/>
<text x="1419.5" y="56.5" font-family="Liberation Sans, sans-serif" font-size="24" >Re</text>
<text x="1419.5" y="92.7" font-family="Liberation Sans, sans-serif" font-size="24" >Im</text>
<text x="1418.5" y="128" font-family="Liberation Sans, sans-serif" font-size="24" >Abs</text>
<text x="1204" y="76.5" font-size="24.8" font-family="Liberation Sans, sans-serif"><tspan font-family="Liberation Serif, serif" font-style="italic" font-size="27.5">θ</tspan> = 12.06°</text>
<polygon points="1027.5,339.8 1061.8,360 1061.8,394 1027.1,414.2 992.9,394 992.9,359.6" fill="none" stroke="#000" stroke-width="2.4" stroke-linejoin="miter"/>
<text x="976.5" y="358.6" font-family="Liberation Sans, sans-serif" font-size="14.1" font-style="italic" >K′</text><path d="M979.8 346.9 c0.8 -1.2 1.9 -1.6 3.2 -0.7 s1.9 1.1 3.2 -0.3" fill="none" stroke="#000" stroke-width="0.8" stroke-linecap="round"/>
<text x="977.5" y="407" font-family="Liberation Sans, sans-serif" font-size="14.1" font-style="italic" >K</text><path d="M980.8 395.3 c0.8 -1.2 1.9 -1.6 3.2 -0.7 s1.9 1.1 3.2 -0.3" fill="none" stroke="#000" stroke-width="0.8" stroke-linecap="round"/>
<text x="1024.7" y="383.3" font-family="Liberation Serif, serif" font-size="13.7" font-style="italic" >Γ</text><path d="M1026.9 372.9 c0.8 -1.2 1.9 -1.6 3.2 -0.7 s1.9 1.1 3.2 -0.3" fill="none" stroke="#000" stroke-width="0.8" stroke-linecap="round"/>
<text x="1069.5" y="382.9" font-family="Liberation Sans, sans-serif" font-size="14.1" font-style="italic" >M</text><path d="M1072.7 371.2 c0.9 -1.2 2.3 -1.6 3.8 -0.7 s2.3 1.1 3.8 -0.3" fill="none" stroke="#000" stroke-width="0.8" stroke-linecap="round"/>
<text x="1047.5" y="416.3" font-family="Liberation Sans, sans-serif" font-size="14.6" letter-spacing="0.9">mBZ</text>
<defs><clipPath id="clipC"><polygon points="954,586.9 1473.5,589.9 1471,1008.4 951.4,1005.7"/></clipPath></defs>
<g clip-path="url(#clipC)" stroke-linejoin="round">
<path d="M952 999.3 L961.1 998.3 L981.3 998.3 L991.4 997.3 L1001.5 996.2 L1013.6 997.3 L1021.7 1000.3 L1027.8 997.3 L1033.9 989.2 L1037.9 979.1 L1041.9 977 L1045 989.2 L1047 1001.3 L1050 995.2 L1053.1 1001.3 L1056.1 993.2 L1059.1 1006.3 L1062.2 995.2 L1064.2 1001.3 L1068.2 995.2 L1074.3 996.2 L1082.4 993.2 L1092.5 988.2 L1102.6 989.2 L1112.7 987.1 L1132.9 985.1 L1167.8 983 L1169.8 977.9 L1171.9 988 L1173.9 978.9 L1175.9 987 L1177.9 979.9 L1181 985 L1184 981.9 L1187 987 L1189.1 979.9 L1192.1 990 L1195.1 977.9 L1197.1 992 L1200.2 978.9 L1203.2 987 L1206.2 983 L1224.4 980.9 L1262.8 979.9 L1264.9 977.5 L1267.3 984 L1269.9 979.9 L1297.2 978.9 L1300.2 971.8 L1302.9 978.9 L1307.3 973.9 L1313.4 967.8 L1321.5 981.9 L1325.5 986 L1332.6 981.9 L1337.6 969.8 L1343.7 949.6 L1347.7 941.5 L1353.8 929.4 L1355.8 923.3 L1357.9 929.4 L1359.9 923.3 L1362.9 931.4 L1368 941.5 L1372 965.8 L1376 994.1 L1381.1 1006.2 L1386.2 1004.2 L1392.2 990 L1398.3 975.9 L1404.4 971.8 L1412.4 971.8 L1426.6 973.9 L1440.7 974.9 L1452.9 971.8 L1463 975.9 L1471.1 980.3" fill="none" stroke="#3450B4" stroke-width="1.9" />
<path d="M952 1000.9 L965.1 1001.3 L981.3 1002.3 L991.4 1003.3 L1001.5 1006.3 L1007.6 1005.3 L1013.6 999.3 L1019.7 985.1 L1023.7 982.1 L1029.8 985.1 L1035.9 986.1 L1041.9 990.2 L1050 993.2 L1062.2 990.2 L1082.4 987.1 L1102.6 985.1 L1122.8 984.1 L1139 983.5 L1140.2 989.2 L1141.4 981.1 L1142.6 990.2 L1144 982.1 L1145.4 989.2 L1147.1 983.5 L1157.2 982.1 L1158.4 991.2 L1160 983.1 L1184 985 L1187 978.9 L1188.4 989 L1190.1 979.9 L1191.7 988 L1194.1 984.4 L1224.4 983 L1244.6 981.9 L1264.9 986 L1285.1 989 L1297.2 985 L1305.3 980.9 L1313.4 971.8 L1321.5 979.9 L1327.5 988 L1332.6 993.1 L1337.6 977.9 L1341.7 945.6 L1345.7 929.4 L1350.8 919.3 L1355.8 909.2 L1361.9 913.2 L1368 929.4 L1373 953.6 L1378.1 977.9 L1384.1 990 L1388.2 988 L1394.2 975.9 L1402.3 963.7 L1412.4 965.8 L1418.5 967.8 L1426.6 971.8 L1432.7 977.9 L1440.7 979.9 L1450.8 975.9 L1456.9 976.9 L1465 981.9 L1471.1 987" fill="none" stroke="#F3E335" stroke-width="1.9" />
<path d="M952 998.3 L965.1 997.7 L975.2 999.3 L985.3 1001.3 L993.4 998.3 L1001.5 992.2 L1003.9 990.2 L1005.6 993.2 L1008.6 990.2 L1011.2 992.8 L1013.2 989.2 L1015.7 992.2 L1018.1 989.2 L1019.7 998.3 L1021.7 990.2 L1023.7 991.2 L1033.9 991.2 L1046 994.2 L1054.1 993.2 L1062.2 991.2 L1082.4 988.2 L1102.6 986.1 L1112.7 985.1 L1113.7 975 L1115.1 993.2 L1116.7 977 L1118.8 996.2 L1120.8 974 L1122.8 992.2 L1124.8 975 L1126.8 993.2 L1129.9 981.1 L1131.9 972 L1133.9 987.1 L1139 983.1 L1184 983 L1204.2 981.9 L1224.4 979.9 L1238.6 978.9 L1264.9 979.9 L1285.1 980.9 L1297.2 978.9 L1303.3 975.9 L1307.3 971.8 L1308.9 964.8 L1311 974.9 L1313.8 963.7 L1317.4 967.8 L1321.5 977.9 L1329.6 994.1 L1335.6 1002.2 L1337.6 1000.1 L1340.7 977.9 L1343.7 947.6 L1346.7 913.2 L1348.4 901.1 L1350.2 929.4 L1352.8 913.2 L1355.4 895 L1357.5 876.8 L1359.5 891 L1361.9 905.1 L1364.9 893 L1367 913.2 L1368.4 931.4 L1371 957.7 L1374 981.9 L1378.1 1002.2 L1383.1 1007.2 L1388.2 1004.2 L1393.2 990 L1398.3 971.8 L1402.3 961.7 L1405.4 959.7 L1408.4 965.8 L1412.4 977.9 L1416.5 971.8 L1422.5 966.8 L1426.6 969.8 L1432.7 973.9 L1440.7 973.9 L1450.8 969.8 L1456.9 971.8 L1465 977.9 L1471.1 985" fill="none" stroke="#000000" stroke-width="1.9" />
<path d="M952 999.3 L965.1 999.3 L975.2 1000.3 L981.3 991.2 L986.3 983.1 L990.4 987.1 L993.4 982.1 L997.5 991.2 L1001.5 989.2 L1009.6 994.2 L1021.7 991.2 L1041.9 989.2 L1054.1 991.2 L1059.1 983.1 L1062.2 993.2 L1066.2 977 L1068.2 992.2 L1071.3 975 L1074.3 997.3 L1077.3 975 L1080.4 968.9 L1082.4 1001.3 L1085.4 981.1 L1088.4 990.2 L1092.5 983.1 L1098.5 987.1 L1112.7 984.1 L1132.9 983.5 L1184 980.9 L1204.2 978.9 L1224.4 977.5 L1230.5 978.9 L1237.6 973.9 L1264.9 973.9 L1285.1 973.5 L1297.2 970.8 L1305.3 961.7 L1311.4 950.6 L1314.4 948.6 L1317.4 953.6 L1322.5 977.9 L1327.5 994.1 L1333.6 1007.2 L1337.6 1006.2 L1341.7 994.1 L1345.7 973.9 L1349.8 949.6 L1353.4 939.5 L1355.4 945.6 L1357.5 931.4 L1361.9 935.4 L1365.9 945.6 L1370 959.7 L1374 981.9 L1379.1 1002.2 L1384.1 1007.2 L1389.2 1002.2 L1394.2 986 L1399.3 965.8 L1404.4 952.6 L1408.4 957.7 L1412.4 971.8 L1420.5 969.8 L1426.6 971.8 L1434.7 975.9 L1440.7 977.9 L1448.8 972.8 L1454.9 971.8 L1463 974.9 L1471.1 976.9" fill="none" stroke="#B94FC9" stroke-width="1.9" />
<path d="M952 996.2 L961.1 992.2 L971.2 988.2 L981.3 988.2 L991.4 990.2 L1001.5 987.1 L1008.6 989.2 L1010 974 L1011.6 992.2 L1014.6 986.1 L1021.7 986.1 L1041.9 984.7 L1062.2 983.5 L1082.4 982.1 L1102.6 980.7 L1122.8 979.1 L1143 977.6 L1184 974.9 L1204.2 971.8 L1224.4 968.2 L1244.6 965.8 L1264.9 965.8 L1281 965.4 L1293.2 961.7 L1301.3 955.7 L1307.3 945.6 L1311.4 935.4 L1314.4 930.4 L1317.4 935.4 L1321.5 961.7 L1325.5 986 L1330.6 1000.1 L1334.6 1006.2 L1339.7 1002.2 L1343.7 981.9 L1347.7 953.6 L1351.8 921.3 L1355.8 909.2 L1360.9 911.2 L1364.9 925.3 L1368 937.5 L1372 971.8 L1376 1000.1 L1381.1 1006.2 L1386.2 1006.2 L1392.2 994.1 L1397.3 969.8 L1401.3 949.6 L1405.4 941.5 L1408.4 945.6 L1412.4 959.7 L1418.5 961.7 L1426.6 963.3 L1438.7 967.8 L1444.8 967.8 L1450.8 964.8 L1456.9 965.8 L1471.1 968.2" fill="none" stroke="#80DCE6" stroke-width="1.9" />
<path d="M952 985.1 L1160 961.9 L1184 957.7 L1204.2 952.6 L1224.4 947.6 L1236.6 945.6 L1248.7 945.1 L1260.8 946.6 L1270.9 949.6 L1277 951.2 L1285.1 947.6 L1293.2 939.5 L1299.2 932.4 L1305.3 926.3 L1309.3 915.2 L1315.4 884.9 L1319 866.3 L1321.5 884.9 L1324.5 941.5 L1325.5 969.8 L1327.9 968.8 L1330.6 981.9 L1334.6 992 L1338 996.1 L1340.7 990 L1343.7 971.8 L1347.7 941.5 L1351.8 901.1 L1354.8 870.8 L1357.9 869.7 L1360.9 872.8 L1363.9 891 L1367 909.2 L1369.6 921.3 L1372 951.6 L1375 981.9 L1379.1 995.1 L1384.1 1000.1 L1388.2 992 L1392.2 967.8 L1395.3 929.4 L1397.3 901.1 L1398.9 887.3 L1401.3 892 L1406.4 881.9 L1408.4 895 L1410.4 913.2 L1413.4 935 L1417.5 933.4 L1421.5 927.4 L1423.6 928.4 L1426.6 937.5 L1432.7 947.6 L1440.7 954 L1446.8 949.6 L1452.9 941.5 L1456.9 942.5 L1462 944.5 L1467 944.5 L1471.1 945.6" fill="none" stroke="#E8321F" stroke-width="1.9" />
<path d="M951.4 1009.4 L1055.4 1009.9 L1069.3 1005.8 L1090.1 1003.2 L1117.9 1002.3 L1142.2 1002 L1166.4 1002.6 L1194.2 1004.1 L1218.4 1006.8 L1228.8 1010.9 L1339.8 1011.5 L1345.7 1010 L1349 960 L1352.5 900 L1355.8 840.4 L1358.2 810.1 L1360.9 840.4 L1362.9 866.7 L1364.5 855 L1366 880 L1367.9 901.1 L1371 961.7 L1375 1010 L1381.4 1011.7 L1402.2 1011.8 L1412.6 1007.5 L1436.9 1006 L1457.7 1004.7 L1471.6 1004.5" fill="none" stroke="#7DCC1F" stroke-width="1.9" />
<path d="M951.4 1009.4 L1055.4 1009.9 L1069.3 1005.8 L1090.1 1003.2 L1117.9 1001.7 L1142.2 1001.3 L1166.4 1002 L1194.2 1004.1 L1218.4 1006.8 L1228.8 1010.9 L1339.8 1011.5 L1346 1010 L1349.5 930 L1352.5 840 L1354.5 775 L1355.8 743.9 L1356.8 760 L1358 745 L1359.8 718 L1361.5 704.5 L1362.8 718 L1363.9 737.9 L1366 800 L1368.5 880 L1371 960 L1372.5 1010 L1381.4 1011.7 L1402.2 1011.8 L1412.6 1007.5 L1436.9 1005.5 L1457.8 1004.1 L1471.6 1003.8" fill="none" stroke="#3450B4" stroke-width="1.9" />
<path d="M951.4 1009.4 L1055.4 1009.9 L1069.3 1005.8 L1090.1 1003.2 L1117.9 1000 L1142.2 999.4 L1166.5 1000.3 L1194.2 1004.1 L1218.4 1006.8 L1228.8 1010.9 L1339.8 1011.5 L1345.6 1010 L1349.2 930 L1352.4 840 L1355.2 760 L1358.6 701.5 L1360.6 665 L1361.9 641.9 L1362.8 665 L1363.5 689.4 L1364.9 717.7 L1365.8 700 L1366.5 689.4 L1367.6 712 L1369.4 741.9 L1371.4 780 L1373.6 870 L1376.2 960 L1377.8 1010 L1381.4 1011.7 L1402.2 1011.8 L1412.6 1007.5 L1436.9 1004.6 L1457.8 1002.7 L1471.6 1002.4" fill="none" stroke="#EE8130" stroke-width="1.9" />
<path d="M951.4 1009.4 L1055.4 1009.9 L1069.3 1005.8 L1090.1 1003.2 L1117.9 1001.2 L1142.2 1000.7 L1166.4 1001.5 L1194.2 1004.1 L1218.4 1006.8 L1228.8 1010.9 L1339.8 1011.5 L1347 1010 L1350.5 940 L1353.5 850 L1355.8 780 L1357.5 715 L1358.9 675.2 L1360.5 668 L1361.9 665.1 L1363 685 L1363.9 701.5 L1365.3 721.7 L1366.5 705.5 L1367.5 721.7 L1369 780 L1371 860 L1373.5 950 L1375.5 1010 L1381.4 1011.7 L1402.2 1011.8 L1412.6 1007.5 L1436.9 1005.3 L1457.8 1003.7 L1471.6 1003.4" fill="none" stroke="#2E7F85" stroke-width="1.9" />
<path d="M1353.5 850 L1355.8 780 L1357.5 715 L1358.9 675.2 L1360.5 668 L1361.9 665.1 L1363 685 L1363.9 701.5 L1365.3 721.7 L1366.5 705.5 L1367.5 721.7 L1369 780 L1371 860" fill="none" stroke="#2E7F85" stroke-width="1.9" />
</g>
<polygon points="954,586.9 1473.5,589.9 1471,1008.4 951.4,1005.7" fill="none" stroke="#000" stroke-width="1.7"/>
<path d="M1124.8 1006.7 L1124.8 1000.7" fill="none" stroke="#000" stroke-width="1.5" />
<path d="M1127.2 587.9 L1127.2 593.9" fill="none" stroke="#000" stroke-width="1.5" />
<path d="M1297.8 1007.6 L1297.8 1001.6" fill="none" stroke="#000" stroke-width="1.5" />
<path d="M1300 588.8 L1300 594.8" fill="none" stroke="#000" stroke-width="1.5" />
<path d="M953.7 640.5 L960.2 640.5" fill="none" stroke="#000" stroke-width="1.5" />
<path d="M1473.2 643.4 L1466.7 643.4" fill="none" stroke="#000" stroke-width="1.5" />
<path d="M953.1 731.6 L959.6 731.6" fill="none" stroke="#000" stroke-width="1.5" />
<path d="M1472.6 734.5 L1466.1 734.5" fill="none" stroke="#000" stroke-width="1.5" />
<path d="M952.5 823.2 L959 823.2" fill="none" stroke="#000" stroke-width="1.5" />
<path d="M1472.1 826.1 L1465.6 826.1" fill="none" stroke="#000" stroke-width="1.5" />
<path d="M952 914.5 L958.5 914.5" fill="none" stroke="#000" stroke-width="1.5" />
<path d="M1471.5 917.4 L1465 917.4" fill="none" stroke="#000" stroke-width="1.5" />
<text x="937" y="649.8" font-family="Liberation Sans, sans-serif" font-size="29.2" text-anchor="end" >2</text>
<text x="937" y="740.9" font-family="Liberation Sans, sans-serif" font-size="29.2" text-anchor="end" >1.5</text>
<text x="937" y="832.5" font-family="Liberation Sans, sans-serif" font-size="29.2" text-anchor="end" >1</text>
<text x="937" y="923.8" font-family="Liberation Sans, sans-serif" font-size="29.2" text-anchor="end" >0.5</text>
<text x="937" y="1013.9" font-family="Liberation Sans, sans-serif" font-size="29.2" text-anchor="end" >0</text>
<text x="948" y="1042.3" font-family="Liberation Sans, sans-serif" font-size="29.2" text-anchor="middle" >0</text>
<text x="1124" y="1042.3" font-family="Liberation Sans, sans-serif" font-size="29.2" text-anchor="middle" >0.5</text>
<text x="1297" y="1042.3" font-family="Liberation Sans, sans-serif" font-size="29.2" text-anchor="middle" >1</text>
<text x="1446.5" y="1042.3" font-family="Liberation Sans, sans-serif" font-size="29.2" >1.5</text>
<text x="1139.5" y="1085" font-size="28.5" font-family="Liberation Sans, sans-serif"><tspan font-style="italic">E</tspan> – <tspan font-style="italic">E</tspan><tspan font-size="20.5" dy="6">F</tspan><tspan dy="-6"> (eV)</tspan></text>
<text transform="translate(861.2 797) rotate(-90)" text-anchor="middle" font-family="Liberation Sans, sans-serif" font-size="29.6"><tspan font-style="italic">D</tspan><tspan font-size="20.5" dy="6">j</tspan><tspan dy="-6">(</tspan><tspan font-style="italic">E</tspan>, 3<tspan font-style="italic">ħ</tspan><tspan font-family="Liberation Serif, serif" font-style="italic" font-size="31">ω</tspan>)</text>
<text x="1076.2" y="572.3" font-size="28.4" word-spacing="1.8" font-family="Liberation Sans, sans-serif">3ħ<tspan font-family="Liberation Serif, serif" font-size="31">ω</tspan> = 2.35 ± 0.04 eV</text>
<text x="856.2" y="584" font-family="Liberation Sans, sans-serif" font-size="42" font-weight="bold" >c</text>
<path d="M979.3 616.8 L1005.6 616.8" fill="none" stroke="#3450B4" stroke-width="1.7" />
<text x="1009.8" y="621.3" font-family="Liberation Sans, sans-serif" font-size="19.2" >9.5°</text>
<path d="M979.3 640.6 L1005.6 640.6" fill="none" stroke="#F3E335" stroke-width="1.7" />
<text x="1009.8" y="646.5" font-family="Liberation Sans, sans-serif" font-size="19.2" >10.0°</text>
<path d="M979.3 664.9 L1005.6 664.9" fill="none" stroke="#000000" stroke-width="1.7" />
<text x="1009.8" y="671.3" font-family="Liberation Sans, sans-serif" font-size="19.2" >10.5°</text>
<path d="M979.3 689 L1005.6 689" fill="none" stroke="#B94FC9" stroke-width="1.7" />
<text x="1009.8" y="695.7" font-family="Liberation Sans, sans-serif" font-size="19.2" >11.0°</text>
<path d="M979.3 713.2 L1005.6 713.2" fill="none" stroke="#80DCE6" stroke-width="1.7" />
<text x="1009.8" y="720.3" font-family="Liberation Sans, sans-serif" font-size="19.2" >11.5°</text>
<path d="M979.3 737.1 L1005.6 737.1" fill="none" stroke="#E8321F" stroke-width="1.7" />
<text x="1009.8" y="744.5" font-family="Liberation Sans, sans-serif" font-size="19.2" >12.0°</text>
<path d="M979.3 761 L1005.6 761" fill="none" stroke="#7DCC1F" stroke-width="1.7" />
<text x="1009.8" y="768.4" font-family="Liberation Sans, sans-serif" font-size="19.2" >12.5°</text>
<path d="M979.3 785.6 L1005.6 785.6" fill="none" stroke="#3450B4" stroke-width="1.7" />
<text x="1009.8" y="792.8" font-family="Liberation Sans, sans-serif" font-size="19.2" >13.0°</text>
<path d="M979.3 809.5 L1005.6 809.5" fill="none" stroke="#EE8130" stroke-width="1.7" />
<text x="1009.8" y="816.8" font-family="Liberation Sans, sans-serif" font-size="19.2" >13.5°</text>
<path d="M979.3 833.7 L1005.6 833.7" fill="none" stroke="#2E7F85" stroke-width="1.7" />
<text x="1009.8" y="841" font-family="Liberation Sans, sans-serif" font-size="19.2" >14.0°</text>
<text x="1280.5" y="657" font-family="Liberation Sans, sans-serif" font-size="22" >Peak 2</text>
<text x="1270" y="852.2" font-family="Liberation Sans, sans-serif" font-size="21.8" >Peak 1</text>
<text x="1396.8" y="860.6" font-family="Liberation Sans, sans-serif" font-size="22" >Peak 3</text>
</svg>
</body></html>
